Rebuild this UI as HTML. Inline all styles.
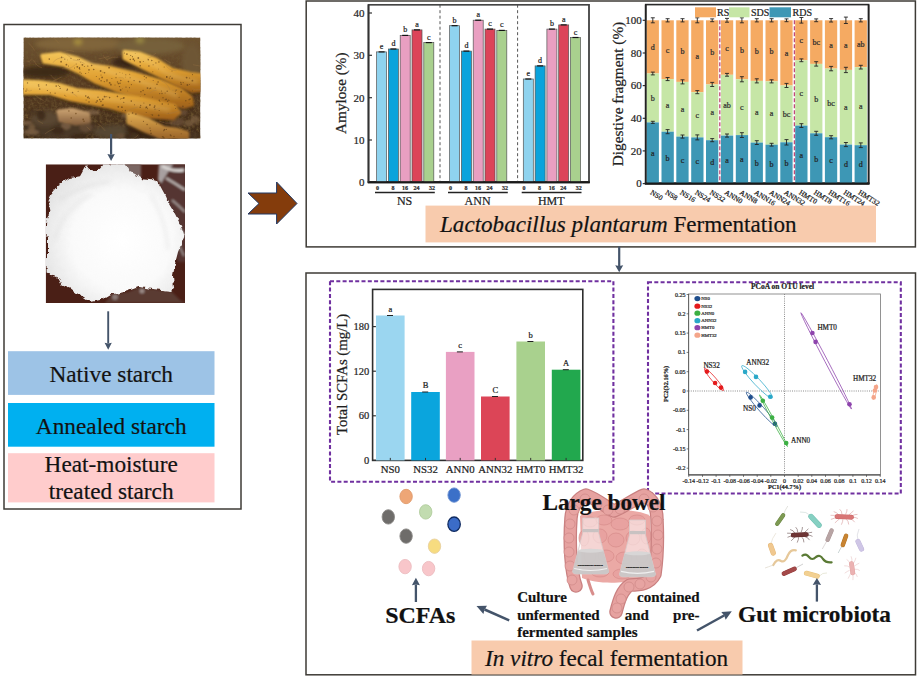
<!DOCTYPE html>
<html><head><meta charset="utf-8"><title>Graphical abstract</title><style>
html,body{margin:0;padding:0;background:#fff;width:918px;height:679px;overflow:hidden}
svg{display:block;position:absolute;left:0;top:0}
text{font-family:"Liberation Serif",serif;stroke:#222;stroke-width:0.22px}
</style></head><body>
<svg width="918" height="679" viewBox="0 0 918 679">
<rect x="0" y="0" width="918" height="679" fill="#fff"/>
<rect x="4" y="24.5" width="237" height="484.5" fill="none" stroke="#3e3b36" stroke-width="1.5"/>
<defs><clipPath id="tclip"><rect x="23.4" y="37.4" width="177" height="101.2"/></clipPath><linearGradient id="tbg" x1="0" y1="0" x2="0" y2="1"><stop offset="0" stop-color="#6f5432"/><stop offset="0.45" stop-color="#5a3d22"/><stop offset="1" stop-color="#3f2b19"/></linearGradient><filter id="bl1" x="-20%" y="-20%" width="140%" height="140%"><feGaussianBlur stdDeviation="0.9"/></filter><filter id="bl2" x="-30%" y="-30%" width="160%" height="160%"><feGaussianBlur stdDeviation="2.2"/></filter><linearGradient id="tub2" x1="0" y1="0" x2="0" y2="1"><stop offset="0" stop-color="#e0ac50"/><stop offset="1" stop-color="#9a6428"/></linearGradient><linearGradient id="tub3" x1="0" y1="0" x2="0" y2="1"><stop offset="0" stop-color="#c8a070"/><stop offset="1" stop-color="#8a6440"/></linearGradient><linearGradient id="tub" x1="0" y1="0" x2="0" y2="1"><stop offset="0" stop-color="#f4c458"/><stop offset="0.45" stop-color="#e0a032"/><stop offset="1" stop-color="#a0621a"/></linearGradient></defs>
<g id="tuber" clip-path="url(#tclip)">
<rect x="23.4" y="37.4" width="177" height="101.2" fill="url(#tbg)"/>
<defs><filter id="soil" x="0" y="0" width="100%" height="100%"><feTurbulence type="fractalNoise" baseFrequency="0.35" numOctaves="3" seed="9"/><feColorMatrix type="matrix" values="0 0 0 0 0.15  0 0 0 0 0.09  0 0 0 0 0.03  0 0 0 -2.2 1.35"/></filter></defs>
<rect x="23.4" y="37.4" width="177" height="101.2" filter="url(#soil)" opacity="0.85"/>
<g filter="url(#bl2)">
<ellipse cx="80" cy="44" rx="45" ry="7" fill="#80653a"/>
<ellipse cx="150" cy="46" rx="35" ry="8" fill="#76603a"/>
<ellipse cx="78" cy="42" rx="4" ry="3" fill="#a89040"/>
<ellipse cx="140" cy="40" rx="4" ry="3" fill="#9a8a44"/>
<ellipse cx="45" cy="72" rx="25" ry="6" fill="#3e2a16"/>
<ellipse cx="130" cy="62" rx="18" ry="6" fill="#3a2614"/>
<ellipse cx="60" cy="127" rx="35" ry="11" fill="#4a3826"/>
<ellipse cx="115" cy="132" rx="22" ry="7" fill="#574632"/>
<ellipse cx="45" cy="118" rx="14" ry="8" fill="#5a4632"/>
<ellipse cx="150" cy="130" rx="25" ry="9" fill="#3a2818"/>
<ellipse cx="192" cy="62" rx="10" ry="18" fill="#6e5636"/>
</g>
<g filter="url(#bl2)">
<polygon points="42.0,58.1 60.1,56.1 78.1,61.0 92.2,67.8 110.2,70.2 132.2,75.4 160.3,83.4 180.4,91.4 190.8,99.8 192.4,107.1 184.4,109.5 164.3,105.9 140.3,100.6 116.2,93.0 96.2,85.0 80.1,75.4 64.1,67.8 44.1,64.6" fill="#2e1e0e" opacity="0.8"/>
<polygon points="124.2,54.1 140.3,56.1 156.3,62.2 172.3,72.2 190.4,76.2 201.4,77.6 201.4,93.0 192.4,93.8 176.3,87.0 160.3,79.0 144.3,71.0 132.2,65.0 124.2,60.6" fill="#2e1e0e" opacity="0.8"/>
<polygon points="23.0,83.8 40.0,84.6 60.1,87.4 78.1,92.6 100.2,94.6 120.2,97.8 140.3,101.0 160.3,105.1 174.3,108.3 179.4,115.1 173.3,121.1 150.3,119.5 130.2,115.9 110.2,109.9 90.2,105.9 70.1,101.8 50.1,95.8 23.0,95.4" fill="#2e1e0e" opacity="0.8"/>
<polygon points="128.2,116.3 148.3,122.3 164.3,130.3 178.3,132.3 187.4,135.1 187.4,141.1 164.3,141.1 144.3,133.1 128.2,125.1" fill="#2e1e0e" opacity="0.8"/>
</g>
<ellipse cx="65.9" cy="126.1" rx="5.2" ry="3.8" fill="#806448" opacity="0.75" filter="url(#bl1)"/>
<ellipse cx="35.5" cy="112.3" rx="8.0" ry="2.8" fill="#4a3520" opacity="0.75" filter="url(#bl1)"/>
<ellipse cx="57.7" cy="130.6" rx="6.2" ry="3.6" fill="#3a2818" opacity="0.75" filter="url(#bl1)"/>
<ellipse cx="136.5" cy="115.9" rx="6.8" ry="4.6" fill="#806448" opacity="0.75" filter="url(#bl1)"/>
<ellipse cx="92.6" cy="112.4" rx="7.7" ry="2.5" fill="#806448" opacity="0.75" filter="url(#bl1)"/>
<ellipse cx="31.5" cy="132.3" rx="7.9" ry="2.8" fill="#806448" opacity="0.75" filter="url(#bl1)"/>
<ellipse cx="150.5" cy="134.8" rx="7.3" ry="4.8" fill="#3a2818" opacity="0.75" filter="url(#bl1)"/>
<ellipse cx="152.2" cy="127.0" rx="8.8" ry="2.4" fill="#7a5e40" opacity="0.75" filter="url(#bl1)"/>
<ellipse cx="41.2" cy="115.5" rx="4.3" ry="4.9" fill="#3a2818" opacity="0.75" filter="url(#bl1)"/>
<ellipse cx="161.1" cy="134.2" rx="5.5" ry="4.5" fill="#806448" opacity="0.75" filter="url(#bl1)"/>
<ellipse cx="85.8" cy="127.2" rx="6.5" ry="4.7" fill="#6a5038" opacity="0.75" filter="url(#bl1)"/>
<ellipse cx="174.7" cy="137.8" rx="7.0" ry="2.5" fill="#7a5e40" opacity="0.75" filter="url(#bl1)"/>
<ellipse cx="193.8" cy="135.5" rx="6.4" ry="4.1" fill="#4a3520" opacity="0.75" filter="url(#bl1)"/>
<ellipse cx="135.4" cy="137.7" rx="4.6" ry="2.4" fill="#3a2818" opacity="0.75" filter="url(#bl1)"/>
<ellipse cx="174.3" cy="137.7" rx="3.5" ry="4.4" fill="#3a2818" opacity="0.75" filter="url(#bl1)"/>
<ellipse cx="181.9" cy="112.5" rx="5.6" ry="3.2" fill="#6a5038" opacity="0.75" filter="url(#bl1)"/>
<ellipse cx="31.8" cy="128.0" rx="3.3" ry="4.2" fill="#7a5e40" opacity="0.75" filter="url(#bl1)"/>
<ellipse cx="120.9" cy="136.0" rx="4.7" ry="2.7" fill="#6a5038" opacity="0.75" filter="url(#bl1)"/>
<ellipse cx="78.5" cy="114.0" rx="6.6" ry="2.1" fill="#4a3520" opacity="0.75" filter="url(#bl1)"/>
<ellipse cx="195.0" cy="119.6" rx="4.6" ry="4.1" fill="#7a5e40" opacity="0.75" filter="url(#bl1)"/>
<ellipse cx="79.2" cy="136.9" rx="8.4" ry="3.1" fill="#3a2818" opacity="0.75" filter="url(#bl1)"/>
<ellipse cx="177.1" cy="122.0" rx="8.2" ry="4.0" fill="#6a5038" opacity="0.75" filter="url(#bl1)"/>
<ellipse cx="133.1" cy="136.5" rx="6.0" ry="3.3" fill="#4a3520" opacity="0.75" filter="url(#bl1)"/>
<ellipse cx="188.8" cy="123.4" rx="4.5" ry="2.9" fill="#7a5e40" opacity="0.75" filter="url(#bl1)"/>
<ellipse cx="26.0" cy="122.8" rx="6.5" ry="2.1" fill="#806448" opacity="0.75" filter="url(#bl1)"/>
<ellipse cx="127.7" cy="115.5" rx="6.8" ry="3.0" fill="#7a5e40" opacity="0.75" filter="url(#bl1)"/>
<ellipse cx="143.6" cy="121.2" rx="7.2" ry="4.2" fill="#6a5038" opacity="0.75" filter="url(#bl1)"/>
<ellipse cx="127.7" cy="136.8" rx="3.1" ry="3.1" fill="#3a2818" opacity="0.75" filter="url(#bl1)"/>
<polygon points="42.0,55.6 60.1,53.6 78.1,58.5 92.2,65.3 110.2,67.7 132.2,72.9 160.3,80.9 180.4,88.9 190.8,97.3 192.4,104.6 184.4,107.0 164.3,103.4 140.3,98.1 116.2,90.5 96.2,82.5 80.1,72.9 64.1,65.3 44.1,62.1" fill="url(#tub)" stroke="url(#tub)" stroke-width="3.5" stroke-linejoin="round" filter="url(#bl1)"/>
<polygon points="124.2,51.6 140.3,53.6 156.3,59.7 172.3,69.7 190.4,73.7 201.4,75.1 201.4,90.5 192.4,91.3 176.3,84.5 160.3,76.5 144.3,68.5 132.2,62.5 124.2,58.1" fill="url(#tub)" stroke="url(#tub)" stroke-width="3.5" stroke-linejoin="round" filter="url(#bl1)"/>
<polygon points="23.0,81.3 40.0,82.1 60.1,84.9 78.1,90.1 100.2,92.1 120.2,95.3 140.3,98.5 160.3,102.6 174.3,105.8 179.4,112.6 173.3,118.6 150.3,117.0 130.2,113.4 110.2,107.4 90.2,103.4 70.1,99.3 50.1,93.3 23.0,92.9" fill="url(#tub)" stroke="url(#tub)" stroke-width="3.5" stroke-linejoin="round" filter="url(#bl1)"/>
<polygon points="128.2,113.8 148.3,119.8 164.3,127.8 178.3,129.8 187.4,132.6 187.4,138.6 164.3,138.6 144.3,130.6 128.2,122.6" fill="url(#tub2)" stroke="url(#tub2)" stroke-width="3.5" stroke-linejoin="round" filter="url(#bl1)"/>
<polygon points="58.1,111.2 72.1,109.8 88.1,113.8 89.2,121.8 76.1,123.8 60.1,120.6" fill="url(#tub3)" stroke="url(#tub3)" stroke-width="3.5" stroke-linejoin="round" filter="url(#bl1)"/>
<g filter="url(#bl2)" opacity="0.35">
<path d="M62 58 Q90 62 110 72 Q140 80 178 96" fill="none" stroke="#f6dc98" stroke-width="3"/>
<path d="M26 85 Q60 88 90 96 Q130 102 170 110" fill="none" stroke="#f6dc98" stroke-width="3"/>
<path d="M130 54 Q150 60 165 72 Q180 80 198 82" fill="none" stroke="#f6dc98" stroke-width="3"/>
</g>
<circle cx="122.6" cy="73.1" r="0.4" fill="#6a4418" opacity="0.7"/>
<circle cx="129.5" cy="87.7" r="0.6" fill="#6a4418" opacity="0.7"/>
<circle cx="144.3" cy="76.4" r="0.6" fill="#6a4418" opacity="0.7"/>
<circle cx="130.1" cy="77.8" r="0.5" fill="#6a4418" opacity="0.7"/>
<circle cx="161.5" cy="90.9" r="0.5" fill="#6a4418" opacity="0.7"/>
<circle cx="128.4" cy="81.6" r="0.8" fill="#6a4418" opacity="0.7"/>
<circle cx="157.0" cy="84.2" r="0.8" fill="#6a4418" opacity="0.7"/>
<circle cx="131.4" cy="84.6" r="0.6" fill="#6a4418" opacity="0.7"/>
<circle cx="168.3" cy="104.0" r="0.6" fill="#6a4418" opacity="0.7"/>
<circle cx="147.5" cy="88.1" r="0.9" fill="#6a4418" opacity="0.7"/>
<circle cx="67.3" cy="59.9" r="0.4" fill="#6a4418" opacity="0.7"/>
<circle cx="109.6" cy="82.9" r="0.8" fill="#6a4418" opacity="0.7"/>
<circle cx="165.2" cy="99.7" r="0.5" fill="#6a4418" opacity="0.7"/>
<circle cx="104.5" cy="72.8" r="0.8" fill="#6a4418" opacity="0.7"/>
<circle cx="68.5" cy="66.0" r="0.5" fill="#6a4418" opacity="0.7"/>
<circle cx="115.0" cy="85.1" r="0.5" fill="#6a4418" opacity="0.7"/>
<circle cx="119.5" cy="86.6" r="0.7" fill="#6a4418" opacity="0.7"/>
<circle cx="159.3" cy="100.3" r="0.8" fill="#6a4418" opacity="0.7"/>
<circle cx="101.0" cy="74.9" r="0.5" fill="#6a4418" opacity="0.7"/>
<circle cx="64.8" cy="59.1" r="0.6" fill="#6a4418" opacity="0.7"/>
<circle cx="80.0" cy="72.2" r="0.6" fill="#6a4418" opacity="0.7"/>
<circle cx="189.1" cy="99.7" r="0.7" fill="#6a4418" opacity="0.7"/>
<circle cx="81.3" cy="73.2" r="0.5" fill="#6a4418" opacity="0.7"/>
<circle cx="158.1" cy="82.0" r="0.8" fill="#6a4418" opacity="0.7"/>
<circle cx="91.6" cy="65.5" r="0.8" fill="#6a4418" opacity="0.7"/>
<circle cx="190.1" cy="99.1" r="0.8" fill="#6a4418" opacity="0.7"/>
<circle cx="165.1" cy="93.1" r="0.5" fill="#6a4418" opacity="0.7"/>
<circle cx="119.9" cy="72.6" r="0.4" fill="#6a4418" opacity="0.7"/>
<circle cx="182.9" cy="106.3" r="0.9" fill="#6a4418" opacity="0.7"/>
<circle cx="76.2" cy="64.1" r="0.5" fill="#6a4418" opacity="0.7"/>
<circle cx="140.2" cy="96.3" r="0.4" fill="#6a4418" opacity="0.7"/>
<circle cx="159.7" cy="93.6" r="0.6" fill="#6a4418" opacity="0.7"/>
<circle cx="61.1" cy="61.7" r="0.9" fill="#6a4418" opacity="0.7"/>
<circle cx="139.7" cy="81.7" r="0.9" fill="#6a4418" opacity="0.7"/>
<circle cx="79.9" cy="69.3" r="0.5" fill="#6a4418" opacity="0.7"/>
<circle cx="110.9" cy="84.7" r="0.9" fill="#6a4418" opacity="0.7"/>
<circle cx="117.5" cy="82.0" r="0.7" fill="#6a4418" opacity="0.7"/>
<circle cx="120.0" cy="83.3" r="0.8" fill="#6a4418" opacity="0.7"/>
<circle cx="79.4" cy="68.4" r="0.8" fill="#6a4418" opacity="0.7"/>
<circle cx="118.4" cy="83.6" r="0.8" fill="#6a4418" opacity="0.7"/>
<circle cx="134.1" cy="80.6" r="0.7" fill="#6a4418" opacity="0.7"/>
<circle cx="146.2" cy="77.8" r="0.7" fill="#6a4418" opacity="0.7"/>
<circle cx="159.9" cy="101.5" r="0.5" fill="#6a4418" opacity="0.7"/>
<circle cx="149.7" cy="88.8" r="0.5" fill="#6a4418" opacity="0.7"/>
<circle cx="174.8" cy="105.2" r="0.5" fill="#6a4418" opacity="0.7"/>
<circle cx="106.9" cy="81.1" r="0.6" fill="#6a4418" opacity="0.7"/>
<circle cx="125.3" cy="77.1" r="0.4" fill="#6a4418" opacity="0.7"/>
<circle cx="179.1" cy="97.3" r="0.5" fill="#6a4418" opacity="0.7"/>
<circle cx="127.8" cy="91.0" r="0.4" fill="#6a4418" opacity="0.7"/>
<circle cx="77.9" cy="59.5" r="0.5" fill="#6a4418" opacity="0.7"/>
<circle cx="89.0" cy="69.9" r="0.8" fill="#6a4418" opacity="0.7"/>
<circle cx="107.0" cy="80.0" r="0.8" fill="#6a4418" opacity="0.7"/>
<circle cx="101.1" cy="80.7" r="0.7" fill="#6a4418" opacity="0.7"/>
<circle cx="167.2" cy="91.3" r="0.7" fill="#6a4418" opacity="0.7"/>
<circle cx="102.9" cy="72.2" r="0.4" fill="#6a4418" opacity="0.7"/>
<circle cx="61.6" cy="57.4" r="0.8" fill="#6a4418" opacity="0.7"/>
<circle cx="80.5" cy="62.3" r="0.4" fill="#6a4418" opacity="0.7"/>
<circle cx="168.5" cy="100.1" r="0.7" fill="#6a4418" opacity="0.7"/>
<circle cx="84.4" cy="66.6" r="0.5" fill="#6a4418" opacity="0.7"/>
<circle cx="109.1" cy="67.7" r="0.9" fill="#6a4418" opacity="0.7"/>
<circle cx="88.6" cy="72.7" r="0.4" fill="#6a4418" opacity="0.7"/>
<circle cx="99.4" cy="78.9" r="0.7" fill="#6a4418" opacity="0.7"/>
<circle cx="87.8" cy="66.1" r="0.7" fill="#6a4418" opacity="0.7"/>
<circle cx="140.9" cy="91.8" r="0.8" fill="#6a4418" opacity="0.7"/>
<circle cx="100.6" cy="71.0" r="0.9" fill="#6a4418" opacity="0.7"/>
<circle cx="167.6" cy="101.2" r="0.7" fill="#6a4418" opacity="0.7"/>
<circle cx="152.4" cy="96.9" r="0.5" fill="#6a4418" opacity="0.7"/>
<circle cx="120.8" cy="80.5" r="0.8" fill="#6a4418" opacity="0.7"/>
<circle cx="163.0" cy="97.7" r="0.7" fill="#6a4418" opacity="0.7"/>
<circle cx="176.3" cy="90.1" r="0.7" fill="#6a4418" opacity="0.7"/>
<circle cx="126.0" cy="87.1" r="0.7" fill="#6a4418" opacity="0.7"/>
<circle cx="144.4" cy="79.7" r="0.4" fill="#6a4418" opacity="0.7"/>
<circle cx="162.0" cy="93.5" r="0.7" fill="#6a4418" opacity="0.7"/>
<circle cx="122.5" cy="88.8" r="0.4" fill="#6a4418" opacity="0.7"/>
<circle cx="116.3" cy="74.0" r="0.6" fill="#6a4418" opacity="0.7"/>
<circle cx="144.8" cy="94.5" r="0.7" fill="#6a4418" opacity="0.7"/>
<circle cx="143.1" cy="90.5" r="0.7" fill="#6a4418" opacity="0.7"/>
<circle cx="111.9" cy="78.5" r="0.5" fill="#6a4418" opacity="0.7"/>
<circle cx="189.1" cy="103.6" r="0.4" fill="#6a4418" opacity="0.7"/>
<circle cx="82.4" cy="64.8" r="0.9" fill="#6a4418" opacity="0.7"/>
<circle cx="175.4" cy="91.1" r="0.5" fill="#6a4418" opacity="0.7"/>
<circle cx="116.0" cy="77.7" r="0.6" fill="#6a4418" opacity="0.7"/>
<circle cx="181.3" cy="91.7" r="0.9" fill="#6a4418" opacity="0.7"/>
<circle cx="85.6" cy="73.5" r="0.6" fill="#6a4418" opacity="0.7"/>
<circle cx="96.3" cy="76.5" r="0.5" fill="#6a4418" opacity="0.7"/>
<circle cx="49.3" cy="59.1" r="0.8" fill="#6a4418" opacity="0.7"/>
<circle cx="79.5" cy="67.8" r="0.7" fill="#6a4418" opacity="0.7"/>
<circle cx="185.8" cy="100.8" r="0.8" fill="#6a4418" opacity="0.7"/>
<circle cx="155.2" cy="88.0" r="0.5" fill="#6a4418" opacity="0.7"/>
<circle cx="93.7" cy="69.5" r="0.8" fill="#6a4418" opacity="0.7"/>
<circle cx="125.8" cy="74.7" r="0.5" fill="#6a4418" opacity="0.7"/>
<circle cx="66.4" cy="64.7" r="0.9" fill="#6a4418" opacity="0.7"/>
<circle cx="71.0" cy="58.5" r="0.6" fill="#6a4418" opacity="0.7"/>
<circle cx="175.4" cy="93.6" r="0.6" fill="#6a4418" opacity="0.7"/>
<circle cx="104.3" cy="81.6" r="0.6" fill="#6a4418" opacity="0.7"/>
<circle cx="74.5" cy="68.1" r="0.5" fill="#6a4418" opacity="0.7"/>
<circle cx="102.1" cy="77.4" r="0.9" fill="#6a4418" opacity="0.7"/>
<circle cx="169.6" cy="100.2" r="0.4" fill="#6a4418" opacity="0.7"/>
<circle cx="166.2" cy="99.3" r="0.9" fill="#6a4418" opacity="0.7"/>
<circle cx="79.4" cy="59.5" r="0.5" fill="#6a4418" opacity="0.7"/>
<circle cx="120.6" cy="90.0" r="0.9" fill="#6a4418" opacity="0.7"/>
<circle cx="150.5" cy="88.2" r="0.8" fill="#6a4418" opacity="0.7"/>
<circle cx="110.8" cy="83.0" r="0.4" fill="#6a4418" opacity="0.7"/>
<circle cx="129.7" cy="74.3" r="0.5" fill="#6a4418" opacity="0.7"/>
<circle cx="77.3" cy="66.8" r="0.9" fill="#6a4418" opacity="0.7"/>
<circle cx="153.2" cy="80.6" r="0.5" fill="#6a4418" opacity="0.7"/>
<circle cx="135.2" cy="53.7" r="0.4" fill="#6a4418" opacity="0.7"/>
<circle cx="192.4" cy="80.7" r="0.9" fill="#6a4418" opacity="0.7"/>
<circle cx="153.1" cy="64.8" r="0.5" fill="#6a4418" opacity="0.7"/>
<circle cx="140.2" cy="65.8" r="0.8" fill="#6a4418" opacity="0.7"/>
<circle cx="126.9" cy="54.1" r="0.9" fill="#6a4418" opacity="0.7"/>
<circle cx="181.2" cy="84.3" r="0.8" fill="#6a4418" opacity="0.7"/>
<circle cx="148.9" cy="66.0" r="0.8" fill="#6a4418" opacity="0.7"/>
<circle cx="130.3" cy="59.5" r="0.8" fill="#6a4418" opacity="0.7"/>
<circle cx="192.4" cy="90.8" r="0.5" fill="#6a4418" opacity="0.7"/>
<circle cx="130.7" cy="55.5" r="0.6" fill="#6a4418" opacity="0.7"/>
<circle cx="172.1" cy="78.4" r="0.8" fill="#6a4418" opacity="0.7"/>
<circle cx="189.6" cy="78.0" r="0.5" fill="#6a4418" opacity="0.7"/>
<circle cx="143.3" cy="61.4" r="0.5" fill="#6a4418" opacity="0.7"/>
<circle cx="192.5" cy="74.6" r="0.6" fill="#6a4418" opacity="0.7"/>
<circle cx="186.6" cy="77.6" r="0.9" fill="#6a4418" opacity="0.7"/>
<circle cx="187.4" cy="85.0" r="0.9" fill="#6a4418" opacity="0.7"/>
<circle cx="133.4" cy="59.2" r="0.9" fill="#6a4418" opacity="0.7"/>
<circle cx="158.9" cy="62.0" r="0.8" fill="#6a4418" opacity="0.7"/>
<circle cx="170.2" cy="76.2" r="0.5" fill="#6a4418" opacity="0.7"/>
<circle cx="140.0" cy="61.8" r="0.7" fill="#6a4418" opacity="0.7"/>
<circle cx="148.3" cy="59.7" r="0.8" fill="#6a4418" opacity="0.7"/>
<circle cx="166.7" cy="77.0" r="0.4" fill="#6a4418" opacity="0.7"/>
<circle cx="155.9" cy="62.9" r="0.6" fill="#6a4418" opacity="0.7"/>
<circle cx="166.8" cy="77.1" r="0.9" fill="#6a4418" opacity="0.7"/>
<circle cx="152.8" cy="71.7" r="0.5" fill="#6a4418" opacity="0.7"/>
<circle cx="189.5" cy="84.5" r="0.5" fill="#6a4418" opacity="0.7"/>
<circle cx="164.2" cy="66.9" r="0.5" fill="#6a4418" opacity="0.7"/>
<circle cx="166.7" cy="76.5" r="0.6" fill="#6a4418" opacity="0.7"/>
<circle cx="158.7" cy="69.0" r="0.4" fill="#6a4418" opacity="0.7"/>
<circle cx="172.0" cy="71.1" r="0.5" fill="#6a4418" opacity="0.7"/>
<circle cx="183.2" cy="82.6" r="0.6" fill="#6a4418" opacity="0.7"/>
<circle cx="132.5" cy="56.7" r="0.6" fill="#6a4418" opacity="0.7"/>
<circle cx="180.8" cy="82.5" r="0.7" fill="#6a4418" opacity="0.7"/>
<circle cx="201.1" cy="80.7" r="0.8" fill="#6a4418" opacity="0.7"/>
<circle cx="140.3" cy="62.1" r="0.7" fill="#6a4418" opacity="0.7"/>
<circle cx="138.3" cy="58.0" r="0.9" fill="#6a4418" opacity="0.7"/>
<circle cx="169.4" cy="78.0" r="0.6" fill="#6a4418" opacity="0.7"/>
<circle cx="124.4" cy="53.0" r="0.5" fill="#6a4418" opacity="0.7"/>
<circle cx="134.4" cy="60.7" r="0.7" fill="#6a4418" opacity="0.7"/>
<circle cx="151.8" cy="60.5" r="0.7" fill="#6a4418" opacity="0.7"/>
<circle cx="120.6" cy="99.0" r="0.5" fill="#6a4418" opacity="0.7"/>
<circle cx="46.4" cy="84.9" r="0.7" fill="#6a4418" opacity="0.7"/>
<circle cx="159.2" cy="110.5" r="0.6" fill="#6a4418" opacity="0.7"/>
<circle cx="123.8" cy="102.3" r="0.6" fill="#6a4418" opacity="0.7"/>
<circle cx="123.9" cy="97.8" r="0.9" fill="#6a4418" opacity="0.7"/>
<circle cx="106.1" cy="96.4" r="0.5" fill="#6a4418" opacity="0.7"/>
<circle cx="102.3" cy="105.2" r="0.8" fill="#6a4418" opacity="0.7"/>
<circle cx="50.3" cy="92.8" r="0.6" fill="#6a4418" opacity="0.7"/>
<circle cx="145.4" cy="108.0" r="0.4" fill="#6a4418" opacity="0.7"/>
<circle cx="155.0" cy="109.1" r="0.6" fill="#6a4418" opacity="0.7"/>
<circle cx="58.3" cy="85.2" r="0.5" fill="#6a4418" opacity="0.7"/>
<circle cx="140.2" cy="107.2" r="0.8" fill="#6a4418" opacity="0.7"/>
<circle cx="109.6" cy="97.6" r="0.8" fill="#6a4418" opacity="0.7"/>
<circle cx="25.4" cy="91.0" r="0.5" fill="#6a4418" opacity="0.7"/>
<circle cx="121.6" cy="107.1" r="0.7" fill="#6a4418" opacity="0.7"/>
<circle cx="154.3" cy="107.3" r="0.8" fill="#6a4418" opacity="0.7"/>
<circle cx="27.5" cy="82.9" r="0.7" fill="#6a4418" opacity="0.7"/>
<circle cx="122.1" cy="107.3" r="0.8" fill="#6a4418" opacity="0.7"/>
<circle cx="151.1" cy="114.5" r="0.4" fill="#6a4418" opacity="0.7"/>
<circle cx="158.7" cy="115.4" r="0.9" fill="#6a4418" opacity="0.7"/>
<circle cx="39.8" cy="89.0" r="0.5" fill="#6a4418" opacity="0.7"/>
<circle cx="150.0" cy="104.9" r="0.8" fill="#6a4418" opacity="0.7"/>
<circle cx="38.6" cy="85.0" r="0.8" fill="#6a4418" opacity="0.7"/>
<circle cx="55.1" cy="93.2" r="0.6" fill="#6a4418" opacity="0.7"/>
<circle cx="26.3" cy="90.9" r="0.5" fill="#6a4418" opacity="0.7"/>
<circle cx="87.6" cy="97.6" r="0.8" fill="#6a4418" opacity="0.7"/>
<circle cx="23.2" cy="88.8" r="0.8" fill="#6a4418" opacity="0.7"/>
<circle cx="99.7" cy="99.6" r="0.8" fill="#6a4418" opacity="0.7"/>
<circle cx="67.4" cy="89.3" r="0.7" fill="#6a4418" opacity="0.7"/>
<circle cx="146.2" cy="107.3" r="0.8" fill="#6a4418" opacity="0.7"/>
<circle cx="85.7" cy="96.0" r="0.8" fill="#6a4418" opacity="0.7"/>
<circle cx="26.9" cy="89.0" r="0.5" fill="#6a4418" opacity="0.7"/>
<circle cx="140.7" cy="105.4" r="0.6" fill="#6a4418" opacity="0.7"/>
<circle cx="154.8" cy="106.0" r="0.8" fill="#6a4418" opacity="0.7"/>
<circle cx="143.9" cy="102.9" r="0.5" fill="#6a4418" opacity="0.7"/>
<circle cx="60.2" cy="88.4" r="0.6" fill="#6a4418" opacity="0.7"/>
<circle cx="132.9" cy="112.8" r="0.5" fill="#6a4418" opacity="0.7"/>
<circle cx="47.4" cy="90.5" r="0.6" fill="#6a4418" opacity="0.7"/>
<circle cx="175.5" cy="108.5" r="0.5" fill="#6a4418" opacity="0.7"/>
<circle cx="147.3" cy="108.6" r="0.6" fill="#6a4418" opacity="0.7"/>
<circle cx="39.7" cy="89.0" r="0.6" fill="#6a4418" opacity="0.7"/>
<circle cx="146.7" cy="107.2" r="0.7" fill="#6a4418" opacity="0.7"/>
<circle cx="121.9" cy="98.6" r="0.5" fill="#6a4418" opacity="0.7"/>
<circle cx="117.4" cy="96.4" r="0.8" fill="#6a4418" opacity="0.7"/>
<circle cx="135.9" cy="114.1" r="0.8" fill="#6a4418" opacity="0.7"/>
<circle cx="132.5" cy="113.1" r="0.7" fill="#6a4418" opacity="0.7"/>
<circle cx="123.3" cy="98.2" r="0.6" fill="#6a4418" opacity="0.7"/>
<circle cx="134.5" cy="104.8" r="0.5" fill="#6a4418" opacity="0.7"/>
<circle cx="89.2" cy="98.3" r="0.7" fill="#6a4418" opacity="0.7"/>
<circle cx="125.3" cy="110.3" r="0.6" fill="#6a4418" opacity="0.7"/>
<circle cx="103.1" cy="105.1" r="0.8" fill="#6a4418" opacity="0.7"/>
<circle cx="104.6" cy="96.6" r="0.9" fill="#6a4418" opacity="0.7"/>
<circle cx="65.9" cy="96.2" r="0.4" fill="#6a4418" opacity="0.7"/>
<circle cx="88.4" cy="97.0" r="0.7" fill="#6a4418" opacity="0.7"/>
<circle cx="78.1" cy="91.2" r="0.5" fill="#6a4418" opacity="0.7"/>
<circle cx="56.2" cy="86.1" r="0.8" fill="#6a4418" opacity="0.7"/>
<circle cx="149.6" cy="105.0" r="0.6" fill="#6a4418" opacity="0.7"/>
<circle cx="64.8" cy="95.3" r="0.5" fill="#6a4418" opacity="0.7"/>
<circle cx="67.0" cy="90.4" r="0.6" fill="#6a4418" opacity="0.7"/>
<circle cx="98.0" cy="97.3" r="0.7" fill="#6a4418" opacity="0.7"/>
<circle cx="168.2" cy="113.2" r="0.4" fill="#6a4418" opacity="0.7"/>
<circle cx="152.4" cy="115.1" r="0.8" fill="#6a4418" opacity="0.7"/>
<circle cx="38.9" cy="86.6" r="0.5" fill="#6a4418" opacity="0.7"/>
<circle cx="162.3" cy="104.0" r="0.8" fill="#6a4418" opacity="0.7"/>
<circle cx="146.2" cy="112.6" r="0.5" fill="#6a4418" opacity="0.7"/>
<circle cx="131.3" cy="101.1" r="0.8" fill="#6a4418" opacity="0.7"/>
<circle cx="59.6" cy="86.5" r="0.6" fill="#6a4418" opacity="0.7"/>
<circle cx="100.9" cy="101.4" r="0.8" fill="#6a4418" opacity="0.7"/>
<circle cx="96.2" cy="102.3" r="0.7" fill="#6a4418" opacity="0.7"/>
<circle cx="118.3" cy="106.8" r="0.9" fill="#6a4418" opacity="0.7"/>
<circle cx="102.8" cy="99.4" r="0.8" fill="#6a4418" opacity="0.7"/>
<circle cx="97.2" cy="100.9" r="0.8" fill="#6a4418" opacity="0.7"/>
<circle cx="89.0" cy="102.0" r="0.8" fill="#6a4418" opacity="0.7"/>
<circle cx="86.1" cy="100.1" r="0.5" fill="#6a4418" opacity="0.7"/>
<circle cx="125.3" cy="110.8" r="0.6" fill="#6a4418" opacity="0.7"/>
<circle cx="72.6" cy="92.5" r="0.7" fill="#6a4418" opacity="0.7"/>
<circle cx="122.3" cy="110.5" r="0.4" fill="#6a4418" opacity="0.7"/>
<circle cx="171.0" cy="135.8" r="0.7" fill="#6a4418" opacity="0.7"/>
<circle cx="131.2" cy="121.2" r="0.4" fill="#6a4418" opacity="0.7"/>
<circle cx="164.2" cy="130.1" r="0.8" fill="#6a4418" opacity="0.7"/>
<circle cx="164.7" cy="129.4" r="0.7" fill="#6a4418" opacity="0.7"/>
<circle cx="163.5" cy="130.7" r="0.5" fill="#6a4418" opacity="0.7"/>
<circle cx="174.0" cy="136.5" r="0.7" fill="#6a4418" opacity="0.7"/>
<circle cx="143.5" cy="121.3" r="0.6" fill="#6a4418" opacity="0.7"/>
<circle cx="147.1" cy="124.5" r="0.7" fill="#6a4418" opacity="0.7"/>
<circle cx="162.3" cy="136.6" r="0.6" fill="#6a4418" opacity="0.7"/>
<circle cx="163.2" cy="137.1" r="0.9" fill="#6a4418" opacity="0.7"/>
<circle cx="156.4" cy="124.0" r="0.5" fill="#6a4418" opacity="0.7"/>
<circle cx="170.4" cy="135.0" r="0.8" fill="#6a4418" opacity="0.7"/>
<circle cx="128.9" cy="114.1" r="0.7" fill="#6a4418" opacity="0.7"/>
<circle cx="150.0" cy="128.1" r="0.6" fill="#6a4418" opacity="0.7"/>
<circle cx="166.4" cy="129.4" r="0.6" fill="#6a4418" opacity="0.7"/>
<circle cx="151.0" cy="133.3" r="0.9" fill="#6a4418" opacity="0.7"/>
<circle cx="164.1" cy="138.1" r="0.8" fill="#6a4418" opacity="0.7"/>
<circle cx="150.5" cy="130.8" r="0.7" fill="#6a4418" opacity="0.7"/>
<circle cx="181.2" cy="133.8" r="0.5" fill="#6a4418" opacity="0.7"/>
<circle cx="71.2" cy="118.0" r="0.8" fill="#6a4418" opacity="0.7"/>
<circle cx="84.0" cy="121.2" r="0.8" fill="#6a4418" opacity="0.7"/>
<circle cx="75.9" cy="113.6" r="0.8" fill="#6a4418" opacity="0.7"/>
<circle cx="83.2" cy="119.4" r="0.9" fill="#6a4418" opacity="0.7"/>
<circle cx="68.9" cy="111.0" r="0.7" fill="#6a4418" opacity="0.7"/>
<path d="M164.5 59.2 Q168.3 62.1 170.7 62.8" fill="none" stroke="#a07a48" stroke-width="0.5" opacity="0.6"/>
<path d="M106.4 59.8 Q112.1 56.0 118.3 57.2" fill="none" stroke="#a07a48" stroke-width="0.5" opacity="0.6"/>
<path d="M166.2 114.1 Q174.8 112.6 178.8 110.9" fill="none" stroke="#a07a48" stroke-width="0.5" opacity="0.6"/>
<path d="M108.4 96.6 Q106.5 96.8 102.1 98.6" fill="none" stroke="#a07a48" stroke-width="0.5" opacity="0.6"/>
<path d="M123.8 78.6 Q124.1 77.4 118.5 77.7" fill="none" stroke="#a07a48" stroke-width="0.5" opacity="0.6"/>
<path d="M43.6 100.7 Q38.3 98.0 34.9 95.0" fill="none" stroke="#a07a48" stroke-width="0.5" opacity="0.6"/>
<path d="M28.6 43.2 Q32.0 45.4 34.5 50.5" fill="none" stroke="#a07a48" stroke-width="0.5" opacity="0.6"/>
<path d="M161.4 80.9 Q168.4 83.9 169.8 89.9" fill="none" stroke="#a07a48" stroke-width="0.5" opacity="0.6"/>
<path d="M31.6 59.3 Q29.4 62.4 26.5 61.1" fill="none" stroke="#a07a48" stroke-width="0.5" opacity="0.6"/>
<path d="M105.2 130.9 Q100.8 125.1 97.7 123.7" fill="none" stroke="#a07a48" stroke-width="0.5" opacity="0.6"/>
<path d="M192.9 64.7 Q200.5 65.7 206.1 68.0" fill="none" stroke="#a07a48" stroke-width="0.5" opacity="0.6"/>
<path d="M103.5 55.3 Q103.0 56.5 108.1 60.6" fill="none" stroke="#a07a48" stroke-width="0.5" opacity="0.6"/>
<path d="M86.6 126.7 Q90.3 129.8 90.5 130.4" fill="none" stroke="#a07a48" stroke-width="0.5" opacity="0.6"/>
<path d="M138.2 134.6 Q135.7 138.6 127.9 140.4" fill="none" stroke="#a07a48" stroke-width="0.5" opacity="0.6"/>
<path d="M77.3 96.8 Q72.4 92.5 70.5 92.7" fill="none" stroke="#a07a48" stroke-width="0.5" opacity="0.6"/>
<path d="M109.2 56.2 Q100.9 58.8 98.5 58.8" fill="none" stroke="#a07a48" stroke-width="0.5" opacity="0.6"/>
<path d="M59.1 43.5 Q56.6 41.0 49.7 33.9" fill="none" stroke="#a07a48" stroke-width="0.5" opacity="0.6"/>
<path d="M49.5 82.9 Q55.9 79.9 60.8 77.4" fill="none" stroke="#a07a48" stroke-width="0.5" opacity="0.6"/>
<path d="M84.5 119.0 Q85.9 116.7 90.7 119.7" fill="none" stroke="#a07a48" stroke-width="0.5" opacity="0.6"/>
<path d="M149.9 93.1 Q152.8 89.7 156.8 90.4" fill="none" stroke="#a07a48" stroke-width="0.5" opacity="0.6"/>
<path d="M72.4 120.6 Q66.7 123.5 63.1 121.5" fill="none" stroke="#a07a48" stroke-width="0.5" opacity="0.6"/>
<path d="M45.0 133.9 Q48.0 131.1 54.6 128.5" fill="none" stroke="#a07a48" stroke-width="0.5" opacity="0.6"/>
<path d="M75.1 64.7 Q71.4 69.3 61.8 68.8" fill="none" stroke="#a07a48" stroke-width="0.5" opacity="0.6"/>
<path d="M42.1 67.8 Q36.6 66.7 33.6 60.0" fill="none" stroke="#a07a48" stroke-width="0.5" opacity="0.6"/>
<path d="M27.8 117.5 Q27.3 117.9 22.8 117.9" fill="none" stroke="#a07a48" stroke-width="0.5" opacity="0.6"/>
<path d="M57.5 81.8 Q51.7 76.3 50.2 74.7" fill="none" stroke="#a07a48" stroke-width="0.5" opacity="0.6"/>
<path d="M159.8 108.3 Q157.7 109.2 154.3 110.1" fill="none" stroke="#a07a48" stroke-width="0.5" opacity="0.6"/>
<path d="M72.9 59.8 Q79.3 59.9 84.6 63.6" fill="none" stroke="#a07a48" stroke-width="0.5" opacity="0.6"/>
<path d="M36.5 110.3 Q41.1 109.4 42.0 110.4" fill="none" stroke="#a07a48" stroke-width="0.5" opacity="0.6"/>
<path d="M172.3 123.0 Q165.7 124.3 159.3 121.2" fill="none" stroke="#a07a48" stroke-width="0.5" opacity="0.6"/>
<path d="M71.6 57.9 Q68.2 56.5 66.4 54.0" fill="none" stroke="#a07a48" stroke-width="0.5" opacity="0.6"/>
<path d="M25.8 89.9 Q30.1 92.0 31.9 90.3" fill="none" stroke="#a07a48" stroke-width="0.5" opacity="0.6"/>
<path d="M176.5 70.8 Q168.6 70.4 166.0 65.5" fill="none" stroke="#a07a48" stroke-width="0.5" opacity="0.6"/>
<path d="M192.0 87.5 Q193.9 91.1 201.7 89.2" fill="none" stroke="#a07a48" stroke-width="0.5" opacity="0.6"/>
<path d="M64.1 57.5 Q55.8 57.8 53.0 62.8" fill="none" stroke="#a07a48" stroke-width="0.5" opacity="0.6"/>
<path d="M147.3 58.7 Q151.7 57.2 155.9 53.2" fill="none" stroke="#a07a48" stroke-width="0.5" opacity="0.6"/>
<path d="M43.0 123.5 Q40.2 122.1 37.6 120.7" fill="none" stroke="#a07a48" stroke-width="0.5" opacity="0.6"/>
<path d="M73.9 51.7 Q70.9 49.6 63.6 51.6" fill="none" stroke="#a07a48" stroke-width="0.5" opacity="0.6"/>
<path d="M125.2 111.7 Q130.9 108.9 137.9 107.0" fill="none" stroke="#a07a48" stroke-width="0.5" opacity="0.6"/>
<path d="M172.0 90.5 Q177.0 88.9 183.9 90.4" fill="none" stroke="#a07a48" stroke-width="0.5" opacity="0.6"/>
</g>
<line x1="111.1" y1="134.0" x2="111.1" y2="154.7" stroke="#44546a" stroke-width="2.2"/>
<path d="M111.1 161.0 L107.4 154.0 L111.1 154.7 L114.8 154.0 Z" fill="#44546a"/>
<defs><clipPath id="pclip"><rect x="45.7" y="164.3" width="139.3" height="138.7"/></clipPath><radialGradient id="pw" cx="0.55" cy="0.55" r="0.6"><stop offset="0" stop-color="#ffffff"/><stop offset="0.6" stop-color="#fafafa"/><stop offset="1" stop-color="#e4e4e4"/></radialGradient></defs>
<g id="powder" clip-path="url(#pclip)">
<rect x="45.7" y="164.3" width="139.3" height="138.7" fill="#4a1f16"/>
<g filter="url(#bl1)">
<polygon points="159,164 173,164 175,180 165,188 158,180" fill="#a8a0a0"/>
<polygon points="123,164 141,164 141,178 130,176" fill="#7a6662"/>
<polygon points="173,164 186,164 186,262 178,262 170,230 166,200 160,185" fill="#553630"/>
<path d="M162 166 Q172 172 184 170" fill="none" stroke="#d8d4d2" stroke-width="3"/>
<path d="M166 178 Q176 184 185 190" fill="none" stroke="#b8b0ae" stroke-width="2.5"/>
<path d="M172 200 Q178 205 185 212" fill="none" stroke="#a09492" stroke-width="2"/>
<path d="M176 222 Q180 230 185 236" fill="none" stroke="#a89c9a" stroke-width="2"/>
<path d="M177 240 Q180 248 184 256" fill="none" stroke="#9a8e8c" stroke-width="1.8"/>
<polygon points="112,294 128,292 140,287 152,289 171,291 180,300 186,303 105,303" fill="#5a3a32"/>
<circle cx="115" cy="297" r="3" fill="#8a7a76"/>
<circle cx="142" cy="291" r="2.5" fill="#9a8a86"/>
</g>
<defs><filter id="rough" x="-10%" y="-10%" width="120%" height="120%"><feTurbulence type="fractalNoise" baseFrequency="0.18" numOctaves="2" seed="4" result="n"/><feDisplacementMap in="SourceGraphic" in2="n" scale="5" xChannelSelector="R" yChannelSelector="G" result="d"/><feGaussianBlur in="d" stdDeviation="0.6"/></filter></defs>
<polygon points="46.2,220.8 50.5,210 48.4,201.2 52.7,191.4 58.2,184.9 69,178.3 80,176.2 84,169 86,165 90,170 97.4,170.7 102.8,164.2 125,164.2 130,172 138,176 141.4,178.3 150,179 157.8,181.6 164.3,193.6 168.7,203.4 175.2,214.3 181.7,227.4 184.5,236 178,252 175.2,263 173,275.8 174.1,289 170.8,291 150,288.8 139.2,286.7 128,291 118,293.5 109.4,294.3 100,300 89.8,302 80,295.4 71.2,288.8 61.4,284.5 58.2,278 45.6,272.5 45.6,258.3 48,258 48,237.6 45.6,237.6" fill="url(#pw)" filter="url(#rough)"/>
<g filter="url(#bl2)" opacity="0.5">
<path d="M60 200 Q80 185 110 182" fill="none" stroke="#d0d0d0" stroke-width="2"/>
<path d="M55 240 Q62 210 90 195" fill="none" stroke="#d8d8d8" stroke-width="2"/>
<path d="M150 195 Q165 215 168 250" fill="none" stroke="#d8d8d8" stroke-width="2"/>
</g>
</g>
<line x1="108.2" y1="311.3" x2="108.2" y2="343.5" stroke="#44546a" stroke-width="1.9"/>
<path d="M108.2 349.8 L104.6 342.8 L108.2 343.5 L111.8 342.8 Z" fill="#44546a"/>
<rect x="8" y="351.2" width="206.5" height="43.7" fill="#9dc3e6"/>
<rect x="8" y="403" width="206.5" height="43.7" fill="#00b0f0"/>
<rect x="8" y="453.2" width="206.5" height="49.2" fill="#ffcccc"/>
<text x="111.2" y="382" font-size="23.3" text-anchor="middle" fill="#111">Native starch</text>
<text x="111.2" y="433.5" font-size="23.3" text-anchor="middle" fill="#111">Annealed starch</text>
<text x="111.2" y="472" font-size="23.3" text-anchor="middle" fill="#111">Heat-moisture</text>
<text x="111.2" y="498.5" font-size="23.3" text-anchor="middle" fill="#111">treated starch</text>
<path d="M248 193 L276.6 193 L276.6 182 L297 203.5 L276.6 224 L276.6 214 L248 214 L259 203.5 Z" fill="#843c0c" stroke="#203864" stroke-width="1"/>
<rect x="306.2" y="1" width="609.2" height="245.9" fill="none" stroke="#3e3b36" stroke-width="1.5"/>
<rect x="368.5" y="4.7" width="220.5" height="177.60000000000002" fill="none" stroke="#444" stroke-width="1.4"/>
<line x1="367.8" y1="182.3" x2="589.7" y2="182.3" stroke="#1a1a1a" stroke-width="2"/>
<line x1="368.5" y1="182.3" x2="372.0" y2="182.3" stroke="#333" stroke-width="1.2"/>
<text x="364.6" y="186.1" font-size="11" text-anchor="end" fill="#2a2a2a">0</text>
<line x1="368.5" y1="140.0" x2="372.0" y2="140.0" stroke="#333" stroke-width="1.2"/>
<text x="364.6" y="143.8" font-size="11" text-anchor="end" fill="#2a2a2a">10</text>
<line x1="368.5" y1="97.7" x2="372.0" y2="97.7" stroke="#333" stroke-width="1.2"/>
<text x="364.6" y="101.5" font-size="11" text-anchor="end" fill="#2a2a2a">20</text>
<line x1="368.5" y1="55.3" x2="372.0" y2="55.3" stroke="#333" stroke-width="1.2"/>
<text x="364.6" y="59.1" font-size="11" text-anchor="end" fill="#2a2a2a">30</text>
<line x1="368.5" y1="13.0" x2="372.0" y2="13.0" stroke="#333" stroke-width="1.2"/>
<text x="364.6" y="16.8" font-size="11" text-anchor="end" fill="#2a2a2a">40</text>
<text transform="translate(346.3,93.2) rotate(-90)" font-size="15.2" text-anchor="middle" fill="#222">Amylose (%)</text>
<rect x="376.6" y="51.9" width="10" height="130.4" fill="#8fd3ef" stroke="#555" stroke-width="0.7"/>
<line x1="378.6" y1="51.9" x2="384.6" y2="51.9" stroke="#111" stroke-width="1.2"/>
<text x="381.6" y="48.9" font-size="8" text-anchor="middle" fill="#222">e</text>
<rect x="388.4" y="49.0" width="10" height="133.3" fill="#0aa3dc" stroke="#555" stroke-width="0.7"/>
<line x1="390.4" y1="49.0" x2="396.4" y2="49.0" stroke="#111" stroke-width="1.2"/>
<text x="393.4" y="46.0" font-size="8" text-anchor="middle" fill="#222">d</text>
<rect x="400.2" y="35.4" width="10" height="146.9" fill="#e99fc1" stroke="#555" stroke-width="0.7"/>
<line x1="402.2" y1="35.4" x2="408.2" y2="35.4" stroke="#111" stroke-width="1.2"/>
<text x="405.2" y="32.4" font-size="8" text-anchor="middle" fill="#222">b</text>
<rect x="412.0" y="29.9" width="10" height="152.4" fill="#dc4459" stroke="#555" stroke-width="0.7"/>
<line x1="414.0" y1="29.9" x2="420.0" y2="29.9" stroke="#111" stroke-width="1.2"/>
<text x="417.0" y="26.9" font-size="8" text-anchor="middle" fill="#222">a</text>
<rect x="423.8" y="42.6" width="10" height="139.7" fill="#a9d08e" stroke="#555" stroke-width="0.7"/>
<line x1="425.8" y1="42.6" x2="431.8" y2="42.6" stroke="#111" stroke-width="1.2"/>
<text x="428.8" y="39.6" font-size="8" text-anchor="middle" fill="#222">c</text>
<text x="377.4" y="190" font-size="6" font-weight="bold" text-anchor="middle" fill="#333">0</text>
<text x="392.9" y="190" font-size="6" font-weight="bold" text-anchor="middle" fill="#333">8</text>
<text x="405.1" y="190" font-size="6" font-weight="bold" text-anchor="middle" fill="#333">16</text>
<text x="416.5" y="190" font-size="6" font-weight="bold" text-anchor="middle" fill="#333">24</text>
<text x="432.0" y="190" font-size="6" font-weight="bold" text-anchor="middle" fill="#333">32</text>
<line x1="375.0" y1="192.5" x2="434.8" y2="192.5" stroke="#222" stroke-width="1.5"/>
<text x="404.6" y="205" font-size="12" text-anchor="middle" fill="#222">NS</text>
<rect x="449.6" y="25.7" width="10" height="156.6" fill="#8fd3ef" stroke="#555" stroke-width="0.7"/>
<line x1="451.6" y1="25.7" x2="457.6" y2="25.7" stroke="#111" stroke-width="1.2"/>
<text x="454.6" y="22.7" font-size="8" text-anchor="middle" fill="#222">b</text>
<rect x="461.4" y="51.1" width="10" height="131.2" fill="#0aa3dc" stroke="#555" stroke-width="0.7"/>
<line x1="463.4" y1="51.1" x2="469.4" y2="51.1" stroke="#111" stroke-width="1.2"/>
<text x="466.4" y="48.1" font-size="8" text-anchor="middle" fill="#222">d</text>
<rect x="473.2" y="20.2" width="10" height="162.1" fill="#e99fc1" stroke="#555" stroke-width="0.7"/>
<line x1="475.2" y1="20.2" x2="481.2" y2="20.2" stroke="#111" stroke-width="1.2"/>
<text x="478.2" y="17.2" font-size="8" text-anchor="middle" fill="#222">a</text>
<rect x="485.0" y="29.1" width="10" height="153.2" fill="#dc4459" stroke="#555" stroke-width="0.7"/>
<line x1="487.0" y1="29.1" x2="493.0" y2="29.1" stroke="#111" stroke-width="1.2"/>
<text x="490.0" y="26.1" font-size="8" text-anchor="middle" fill="#222">c</text>
<rect x="496.8" y="30.4" width="10" height="151.9" fill="#a9d08e" stroke="#555" stroke-width="0.7"/>
<line x1="498.8" y1="30.4" x2="504.8" y2="30.4" stroke="#111" stroke-width="1.2"/>
<text x="501.8" y="27.4" font-size="8" text-anchor="middle" fill="#222">c</text>
<text x="450.4" y="190" font-size="6" font-weight="bold" text-anchor="middle" fill="#333">0</text>
<text x="465.9" y="190" font-size="6" font-weight="bold" text-anchor="middle" fill="#333">8</text>
<text x="478.1" y="190" font-size="6" font-weight="bold" text-anchor="middle" fill="#333">16</text>
<text x="489.5" y="190" font-size="6" font-weight="bold" text-anchor="middle" fill="#333">24</text>
<text x="505.0" y="190" font-size="6" font-weight="bold" text-anchor="middle" fill="#333">32</text>
<line x1="448.0" y1="192.5" x2="507.8" y2="192.5" stroke="#222" stroke-width="1.5"/>
<text x="477.6" y="205" font-size="12" text-anchor="middle" fill="#222">ANN</text>
<rect x="523.3" y="79.0" width="10" height="103.3" fill="#8fd3ef" stroke="#555" stroke-width="0.7"/>
<line x1="525.3" y1="79.0" x2="531.3" y2="79.0" stroke="#111" stroke-width="1.2"/>
<text x="528.3" y="76.0" font-size="8" text-anchor="middle" fill="#222">e</text>
<rect x="535.1" y="65.9" width="10" height="116.4" fill="#0aa3dc" stroke="#555" stroke-width="0.7"/>
<line x1="537.1" y1="65.9" x2="543.1" y2="65.9" stroke="#111" stroke-width="1.2"/>
<text x="540.1" y="62.9" font-size="8" text-anchor="middle" fill="#222">d</text>
<rect x="546.9" y="29.1" width="10" height="153.2" fill="#e99fc1" stroke="#555" stroke-width="0.7"/>
<line x1="548.9" y1="29.1" x2="554.9" y2="29.1" stroke="#111" stroke-width="1.2"/>
<text x="551.9" y="26.1" font-size="8" text-anchor="middle" fill="#222">b</text>
<rect x="558.7" y="24.9" width="10" height="157.4" fill="#dc4459" stroke="#555" stroke-width="0.7"/>
<line x1="560.7" y1="24.9" x2="566.7" y2="24.9" stroke="#111" stroke-width="1.2"/>
<text x="563.7" y="21.9" font-size="8" text-anchor="middle" fill="#222">a</text>
<rect x="570.5" y="37.5" width="10" height="144.8" fill="#a9d08e" stroke="#555" stroke-width="0.7"/>
<line x1="572.5" y1="37.5" x2="578.5" y2="37.5" stroke="#111" stroke-width="1.2"/>
<text x="575.5" y="34.5" font-size="8" text-anchor="middle" fill="#222">c</text>
<text x="524.1" y="190" font-size="6" font-weight="bold" text-anchor="middle" fill="#333">0</text>
<text x="539.6" y="190" font-size="6" font-weight="bold" text-anchor="middle" fill="#333">8</text>
<text x="551.8" y="190" font-size="6" font-weight="bold" text-anchor="middle" fill="#333">16</text>
<text x="563.2" y="190" font-size="6" font-weight="bold" text-anchor="middle" fill="#333">24</text>
<text x="578.7" y="190" font-size="6" font-weight="bold" text-anchor="middle" fill="#333">32</text>
<line x1="521.7" y1="192.5" x2="581.5" y2="192.5" stroke="#222" stroke-width="1.5"/>
<text x="551.3" y="205" font-size="12" text-anchor="middle" fill="#222">HMT</text>
<line x1="440" y1="4.7" x2="440" y2="182.3" stroke="#555" stroke-width="1" stroke-dasharray="3,2.5"/>
<line x1="517.6" y1="4.7" x2="517.6" y2="182.3" stroke="#555" stroke-width="1" stroke-dasharray="3,2.5"/>
<rect x="368.5" y="4.7" width="220.5" height="177.60000000000002" fill="none" stroke="#444" stroke-width="1.4"/>
<line x1="367.8" y1="182.3" x2="589.7" y2="182.3" stroke="#1a1a1a" stroke-width="2"/>
<line x1="368.5" y1="4.7" x2="368.5" y2="182.3" stroke="#333" stroke-width="1.7"/>
<rect x="645.7" y="4.6" width="222.89999999999998" height="179.0" fill="none" stroke="#2a2a2a" stroke-width="1.6"/>
<line x1="644.9000000000001" y1="183.6" x2="869.4" y2="183.6" stroke="#1a1a1a" stroke-width="2"/>
<line x1="645.7" y1="183.6" x2="642.7" y2="183.6" stroke="#333" stroke-width="1.2"/>
<text x="641.8" y="187.4" font-size="11" text-anchor="end" fill="#2a2a2a">0</text>
<line x1="645.7" y1="150.9" x2="642.7" y2="150.9" stroke="#333" stroke-width="1.2"/>
<text x="641.8" y="154.7" font-size="11" text-anchor="end" fill="#2a2a2a">20</text>
<line x1="645.7" y1="118.3" x2="642.7" y2="118.3" stroke="#333" stroke-width="1.2"/>
<text x="641.8" y="122.1" font-size="11" text-anchor="end" fill="#2a2a2a">40</text>
<line x1="645.7" y1="85.6" x2="642.7" y2="85.6" stroke="#333" stroke-width="1.2"/>
<text x="641.8" y="89.4" font-size="11" text-anchor="end" fill="#2a2a2a">60</text>
<line x1="645.7" y1="53.0" x2="642.7" y2="53.0" stroke="#333" stroke-width="1.2"/>
<text x="641.8" y="56.8" font-size="11" text-anchor="end" fill="#2a2a2a">80</text>
<line x1="645.7" y1="20.3" x2="642.7" y2="20.3" stroke="#333" stroke-width="1.2"/>
<text x="641.8" y="24.1" font-size="11" text-anchor="end" fill="#2a2a2a">100</text>
<text transform="translate(623,94) rotate(-90)" font-size="15.3" text-anchor="middle" fill="#222">Digestive fragment (%)</text>
<rect x="646.6" y="20.3" width="12.3" height="53.2" fill="#f5aa62"/>
<rect x="646.6" y="73.5" width="12.3" height="48.8" fill="#c6e6a6"/>
<rect x="646.6" y="122.4" width="12.3" height="61.2" fill="#3d97b5"/>
<path d="M650.8 17.8 H654.8 M652.8 17.8 V22.8 M650.8 22.8 H654.8" stroke="#222" stroke-width="0.9" fill="none"/>
<path d="M650.8 72.1 H654.8 M652.8 72.1 V74.9 M650.8 74.9 H654.8" stroke="#222" stroke-width="0.9" fill="none"/>
<path d="M650.8 121.3 H654.8 M652.8 121.3 V123.4 M650.8 123.4 H654.8" stroke="#222" stroke-width="0.9" fill="none"/>
<text x="652.8" y="49.9" font-size="8" text-anchor="middle" fill="#333">d</text>
<text x="652.8" y="100.9" font-size="8" text-anchor="middle" fill="#333">b</text>
<text x="652.8" y="156.0" font-size="8" text-anchor="middle" fill="#222">a</text>
<rect x="661.5" y="20.3" width="12.3" height="58.8" fill="#f5aa62"/>
<rect x="661.5" y="79.1" width="12.3" height="52.6" fill="#c6e6a6"/>
<rect x="661.5" y="131.7" width="12.3" height="51.9" fill="#3d97b5"/>
<path d="M665.6 18.7 H669.6 M667.6 18.7 V21.9 M665.6 21.9 H669.6" stroke="#222" stroke-width="0.9" fill="none"/>
<path d="M665.6 77.5 H669.6 M667.6 77.5 V80.6 M665.6 80.6 H669.6" stroke="#222" stroke-width="0.9" fill="none"/>
<path d="M665.6 129.6 H669.6 M667.6 129.6 V133.7 M665.6 133.7 H669.6" stroke="#222" stroke-width="0.9" fill="none"/>
<text x="667.6" y="52.7" font-size="8" text-anchor="middle" fill="#333">c</text>
<text x="667.6" y="108.4" font-size="8" text-anchor="middle" fill="#333">a</text>
<text x="667.6" y="160.6" font-size="8" text-anchor="middle" fill="#222">b</text>
<rect x="676.3" y="20.3" width="12.3" height="61.6" fill="#f5aa62"/>
<rect x="676.3" y="81.9" width="12.3" height="54.7" fill="#c6e6a6"/>
<rect x="676.3" y="136.6" width="12.3" height="47.0" fill="#3d97b5"/>
<path d="M680.5 18.7 H684.5 M682.5 18.7 V21.9 M680.5 21.9 H684.5" stroke="#222" stroke-width="0.9" fill="none"/>
<path d="M680.5 79.8 H684.5 M682.5 79.8 V83.9 M680.5 83.9 H684.5" stroke="#222" stroke-width="0.9" fill="none"/>
<path d="M680.5 135.0 H684.5 M682.5 135.0 V138.1 M680.5 138.1 H684.5" stroke="#222" stroke-width="0.9" fill="none"/>
<text x="682.5" y="54.1" font-size="8" text-anchor="middle" fill="#333">b</text>
<text x="682.5" y="112.2" font-size="8" text-anchor="middle" fill="#333">a</text>
<text x="682.5" y="163.1" font-size="8" text-anchor="middle" fill="#222">c</text>
<rect x="691.2" y="20.3" width="12.3" height="71.9" fill="#f5aa62"/>
<rect x="691.2" y="92.2" width="12.3" height="45.2" fill="#c6e6a6"/>
<rect x="691.2" y="137.4" width="12.3" height="46.2" fill="#3d97b5"/>
<path d="M695.3 17.8 H699.3 M697.3 17.8 V22.8 M695.3 22.8 H699.3" stroke="#222" stroke-width="0.9" fill="none"/>
<path d="M695.3 90.6 H699.3 M697.3 90.6 V93.7 M695.3 93.7 H699.3" stroke="#222" stroke-width="0.9" fill="none"/>
<path d="M695.3 134.9 H699.3 M697.3 134.9 V139.9 M695.3 139.9 H699.3" stroke="#222" stroke-width="0.9" fill="none"/>
<text x="697.3" y="59.2" font-size="8" text-anchor="middle" fill="#333">a</text>
<text x="697.3" y="117.8" font-size="8" text-anchor="middle" fill="#333">c</text>
<text x="697.3" y="163.5" font-size="8" text-anchor="middle" fill="#222">c</text>
<rect x="706.0" y="20.3" width="12.3" height="64.2" fill="#f5aa62"/>
<rect x="706.0" y="84.5" width="12.3" height="55.7" fill="#c6e6a6"/>
<rect x="706.0" y="140.2" width="12.3" height="43.4" fill="#3d97b5"/>
<path d="M710.2 18.9 H714.2 M712.2 18.9 V21.7 M710.2 21.7 H714.2" stroke="#222" stroke-width="0.9" fill="none"/>
<path d="M710.2 82.4 H714.2 M712.2 82.4 V86.5 M710.2 86.5 H714.2" stroke="#222" stroke-width="0.9" fill="none"/>
<path d="M710.2 138.6 H714.2 M712.2 138.6 V141.7 M710.2 141.7 H714.2" stroke="#222" stroke-width="0.9" fill="none"/>
<text x="712.2" y="55.4" font-size="8" text-anchor="middle" fill="#333">b</text>
<text x="712.2" y="115.3" font-size="8" text-anchor="middle" fill="#333">a</text>
<text x="712.2" y="164.9" font-size="8" text-anchor="middle" fill="#222">d</text>
<rect x="720.9" y="20.3" width="12.3" height="54.5" fill="#f5aa62"/>
<rect x="720.9" y="74.8" width="12.3" height="60.7" fill="#c6e6a6"/>
<rect x="720.9" y="135.6" width="12.3" height="48.0" fill="#3d97b5"/>
<path d="M725.0 18.4 H729.0 M727.0 18.4 V22.2 M725.0 22.2 H729.0" stroke="#222" stroke-width="0.9" fill="none"/>
<path d="M725.0 73.4 H729.0 M727.0 73.4 V76.2 M725.0 76.2 H729.0" stroke="#222" stroke-width="0.9" fill="none"/>
<path d="M725.0 134.0 H729.0 M727.0 134.0 V137.1 M725.0 137.1 H729.0" stroke="#222" stroke-width="0.9" fill="none"/>
<text x="727.0" y="50.6" font-size="8" text-anchor="middle" fill="#333">c</text>
<text x="727.0" y="108.2" font-size="8" text-anchor="middle" fill="#333">ab</text>
<text x="727.0" y="162.6" font-size="8" text-anchor="middle" fill="#222">a</text>
<rect x="735.8" y="20.3" width="12.3" height="59.0" fill="#f5aa62"/>
<rect x="735.8" y="79.3" width="12.3" height="55.8" fill="#c6e6a6"/>
<rect x="735.8" y="135.1" width="12.3" height="48.5" fill="#3d97b5"/>
<path d="M739.9 17.8 H743.9 M741.9 17.8 V22.8 M739.9 22.8 H743.9" stroke="#222" stroke-width="0.9" fill="none"/>
<path d="M739.9 76.7 H743.9 M741.9 76.7 V81.8 M739.9 81.8 H743.9" stroke="#222" stroke-width="0.9" fill="none"/>
<path d="M739.9 132.7 H743.9 M741.9 132.7 V137.5 M739.9 137.5 H743.9" stroke="#222" stroke-width="0.9" fill="none"/>
<text x="741.9" y="52.8" font-size="8" text-anchor="middle" fill="#333">b</text>
<text x="741.9" y="110.2" font-size="8" text-anchor="middle" fill="#333">c</text>
<text x="741.9" y="162.3" font-size="8" text-anchor="middle" fill="#222">a</text>
<rect x="750.6" y="20.3" width="12.3" height="60.6" fill="#f5aa62"/>
<rect x="750.6" y="80.9" width="12.3" height="61.7" fill="#c6e6a6"/>
<rect x="750.6" y="142.6" width="12.3" height="41.0" fill="#3d97b5"/>
<path d="M754.8 18.7 H758.8 M756.8 18.7 V21.9 M754.8 21.9 H758.8" stroke="#222" stroke-width="0.9" fill="none"/>
<path d="M754.8 78.8 H758.8 M756.8 78.8 V82.9 M754.8 82.9 H758.8" stroke="#222" stroke-width="0.9" fill="none"/>
<path d="M754.8 140.7 H758.8 M756.8 140.7 V144.5 M754.8 144.5 H758.8" stroke="#222" stroke-width="0.9" fill="none"/>
<text x="756.8" y="53.6" font-size="8" text-anchor="middle" fill="#333">b</text>
<text x="756.8" y="114.7" font-size="8" text-anchor="middle" fill="#333">a</text>
<text x="756.8" y="166.1" font-size="8" text-anchor="middle" fill="#222">b</text>
<rect x="765.5" y="20.3" width="12.3" height="61.1" fill="#f5aa62"/>
<rect x="765.5" y="81.4" width="12.3" height="63.4" fill="#c6e6a6"/>
<rect x="765.5" y="144.7" width="12.3" height="38.9" fill="#3d97b5"/>
<path d="M769.6 18.7 H773.6 M771.6 18.7 V21.9 M769.6 21.9 H773.6" stroke="#222" stroke-width="0.9" fill="none"/>
<path d="M769.6 79.8 H773.6 M771.6 79.8 V82.9 M769.6 82.9 H773.6" stroke="#222" stroke-width="0.9" fill="none"/>
<path d="M769.6 143.3 H773.6 M771.6 143.3 V146.1 M769.6 146.1 H773.6" stroke="#222" stroke-width="0.9" fill="none"/>
<text x="771.6" y="53.8" font-size="8" text-anchor="middle" fill="#333">b</text>
<text x="771.6" y="116.1" font-size="8" text-anchor="middle" fill="#333">a</text>
<text x="771.6" y="167.2" font-size="8" text-anchor="middle" fill="#222">b</text>
<rect x="780.3" y="20.3" width="12.3" height="65.2" fill="#f5aa62"/>
<rect x="780.3" y="85.5" width="12.3" height="56.8" fill="#c6e6a6"/>
<rect x="780.3" y="142.3" width="12.3" height="41.3" fill="#3d97b5"/>
<path d="M784.5 18.9 H788.5 M786.5 18.9 V21.7 M784.5 21.7 H788.5" stroke="#222" stroke-width="0.9" fill="none"/>
<path d="M784.5 83.4 H788.5 M786.5 83.4 V87.5 M784.5 87.5 H788.5" stroke="#222" stroke-width="0.9" fill="none"/>
<path d="M784.5 139.6 H788.5 M786.5 139.6 V145.0 M784.5 145.0 H788.5" stroke="#222" stroke-width="0.9" fill="none"/>
<text x="786.5" y="55.9" font-size="8" text-anchor="middle" fill="#333">a</text>
<text x="786.5" y="116.9" font-size="8" text-anchor="middle" fill="#333">bc</text>
<text x="786.5" y="165.9" font-size="8" text-anchor="middle" fill="#222">b</text>
<rect x="795.2" y="20.3" width="12.3" height="40.0" fill="#f5aa62"/>
<rect x="795.2" y="60.3" width="12.3" height="65.3" fill="#c6e6a6"/>
<rect x="795.2" y="125.6" width="12.3" height="58.0" fill="#3d97b5"/>
<path d="M799.4 17.5 H803.4 M801.4 17.5 V23.1 M799.4 23.1 H803.4" stroke="#222" stroke-width="0.9" fill="none"/>
<path d="M799.4 58.9 H803.4 M801.4 58.9 V61.7 M799.4 61.7 H803.4" stroke="#222" stroke-width="0.9" fill="none"/>
<path d="M799.4 123.7 H803.4 M801.4 123.7 V127.5 M799.4 127.5 H803.4" stroke="#222" stroke-width="0.9" fill="none"/>
<text x="801.4" y="43.3" font-size="8" text-anchor="middle" fill="#333">c</text>
<text x="801.4" y="96.0" font-size="8" text-anchor="middle" fill="#333">c</text>
<text x="801.4" y="157.6" font-size="8" text-anchor="middle" fill="#222">a</text>
<rect x="810.1" y="20.3" width="12.3" height="43.6" fill="#f5aa62"/>
<rect x="810.1" y="63.9" width="12.3" height="69.4" fill="#c6e6a6"/>
<rect x="810.1" y="133.3" width="12.3" height="50.3" fill="#3d97b5"/>
<path d="M814.2 18.9 H818.2 M816.2 18.9 V21.7 M814.2 21.7 H818.2" stroke="#222" stroke-width="0.9" fill="none"/>
<path d="M814.2 61.7 H818.2 M816.2 61.7 V66.1 M814.2 66.1 H818.2" stroke="#222" stroke-width="0.9" fill="none"/>
<path d="M814.2 131.3 H818.2 M816.2 131.3 V135.3 M814.2 135.3 H818.2" stroke="#222" stroke-width="0.9" fill="none"/>
<text x="816.2" y="45.1" font-size="8" text-anchor="middle" fill="#333">bc</text>
<text x="816.2" y="101.6" font-size="8" text-anchor="middle" fill="#333">b</text>
<text x="816.2" y="161.5" font-size="8" text-anchor="middle" fill="#222">b</text>
<rect x="824.9" y="20.3" width="12.3" height="48.3" fill="#f5aa62"/>
<rect x="824.9" y="68.6" width="12.3" height="68.6" fill="#c6e6a6"/>
<rect x="824.9" y="137.2" width="12.3" height="46.4" fill="#3d97b5"/>
<path d="M829.1 18.6 H833.1 M831.1 18.6 V22.0 M829.1 22.0 H833.1" stroke="#222" stroke-width="0.9" fill="none"/>
<path d="M829.1 66.4 H833.1 M831.1 66.4 V70.8 M829.1 70.8 H833.1" stroke="#222" stroke-width="0.9" fill="none"/>
<path d="M829.1 135.7 H833.1 M831.1 135.7 V138.8 M829.1 138.8 H833.1" stroke="#222" stroke-width="0.9" fill="none"/>
<text x="831.1" y="47.5" font-size="8" text-anchor="middle" fill="#333">a</text>
<text x="831.1" y="105.9" font-size="8" text-anchor="middle" fill="#333">bc</text>
<text x="831.1" y="163.4" font-size="8" text-anchor="middle" fill="#222">c</text>
<rect x="839.8" y="20.3" width="12.3" height="49.6" fill="#f5aa62"/>
<rect x="839.8" y="69.9" width="12.3" height="74.6" fill="#c6e6a6"/>
<rect x="839.8" y="144.6" width="12.3" height="39.0" fill="#3d97b5"/>
<path d="M843.9 17.1 H847.9 M845.9 17.1 V23.5 M843.9 23.5 H847.9" stroke="#222" stroke-width="0.9" fill="none"/>
<path d="M843.9 67.3 H847.9 M845.9 67.3 V72.6 M843.9 72.6 H847.9" stroke="#222" stroke-width="0.9" fill="none"/>
<path d="M843.9 142.5 H847.9 M845.9 142.5 V146.6 M843.9 146.6 H847.9" stroke="#222" stroke-width="0.9" fill="none"/>
<text x="845.9" y="48.1" font-size="8" text-anchor="middle" fill="#333">a</text>
<text x="845.9" y="110.3" font-size="8" text-anchor="middle" fill="#333">a</text>
<text x="845.9" y="167.1" font-size="8" text-anchor="middle" fill="#222">d</text>
<rect x="854.6" y="20.3" width="12.3" height="46.9" fill="#f5aa62"/>
<rect x="854.6" y="67.2" width="12.3" height="78.1" fill="#c6e6a6"/>
<rect x="854.6" y="145.2" width="12.3" height="38.4" fill="#3d97b5"/>
<path d="M858.8 18.7 H862.8 M860.8 18.7 V21.9 M858.8 21.9 H862.8" stroke="#222" stroke-width="0.9" fill="none"/>
<path d="M858.8 65.3 H862.8 M860.8 65.3 V69.0 M858.8 69.0 H862.8" stroke="#222" stroke-width="0.9" fill="none"/>
<path d="M858.8 142.9 H862.8 M860.8 142.9 V147.6 M858.8 147.6 H862.8" stroke="#222" stroke-width="0.9" fill="none"/>
<text x="860.8" y="46.7" font-size="8" text-anchor="middle" fill="#333">ab</text>
<text x="860.8" y="109.2" font-size="8" text-anchor="middle" fill="#333">a</text>
<text x="860.8" y="167.4" font-size="8" text-anchor="middle" fill="#222">d</text>
<text transform="translate(649.8,193.7) rotate(32)" font-size="7.3" fill="#222">NS0</text>
<text transform="translate(664.7,193.7) rotate(32)" font-size="7.3" fill="#222">NS8</text>
<text transform="translate(679.5,193.7) rotate(32)" font-size="7.3" fill="#222">NS16</text>
<text transform="translate(694.4,193.7) rotate(32)" font-size="7.3" fill="#222">NS24</text>
<text transform="translate(709.2,193.7) rotate(32)" font-size="7.3" fill="#222">NS32</text>
<text transform="translate(724.1,193.7) rotate(32)" font-size="7.3" fill="#222">ANN0</text>
<text transform="translate(739.0,193.7) rotate(32)" font-size="7.3" fill="#222">ANN8</text>
<text transform="translate(753.8,193.7) rotate(32)" font-size="7.3" fill="#222">ANN16</text>
<text transform="translate(768.7,193.7) rotate(32)" font-size="7.3" fill="#222">ANN24</text>
<text transform="translate(783.5,193.7) rotate(32)" font-size="7.3" fill="#222">ANN32</text>
<text transform="translate(798.4,193.7) rotate(32)" font-size="7.3" fill="#222">HMT0</text>
<text transform="translate(813.3,193.7) rotate(32)" font-size="7.3" fill="#222">HMT8</text>
<text transform="translate(828.1,193.7) rotate(32)" font-size="7.3" fill="#222">HMT16</text>
<text transform="translate(843.0,193.7) rotate(32)" font-size="7.3" fill="#222">HMT24</text>
<text transform="translate(857.8,193.7) rotate(32)" font-size="7.3" fill="#222">HMT32</text>
<line x1="719.8" y1="20.30000000000001" x2="719.8" y2="183.6" stroke="#c04a78" stroke-width="1.3" stroke-dasharray="4,2"/>
<line x1="794.4" y1="20.30000000000001" x2="794.4" y2="183.6" stroke="#c04a78" stroke-width="1.3" stroke-dasharray="4,2"/>
<line x1="644.9000000000001" y1="183.6" x2="869.4" y2="183.6" stroke="#1a1a1a" stroke-width="2"/>
<line x1="645.7" y1="4.6" x2="645.7" y2="183.6" stroke="#222" stroke-width="1.7"/>
<line x1="868.6" y1="4.6" x2="868.6" y2="183.6" stroke="#222" stroke-width="1.6"/>
<rect x="695" y="7.3" width="21" height="10" fill="#f5aa62"/>
<text x="717" y="16" font-size="10" fill="#222">RS</text>
<rect x="729" y="7.3" width="20.5" height="10" fill="#c6e6a6"/>
<text x="751" y="16" font-size="10" fill="#222">SDS</text>
<rect x="769.5" y="7.3" width="21.5" height="10" fill="#3d97b5"/>
<text x="792.5" y="16" font-size="10" fill="#222">RDS</text>
<rect x="425.5" y="205.6" width="450.5" height="36.8" fill="#f8cbad"/>
<text x="440" y="231.8" font-size="23.1" fill="#111"><tspan font-style="italic">Lactobacillus plantarum</tspan> Fermentation</text>
<line x1="619.2" y1="246.5" x2="619.2" y2="266.0" stroke="#44546a" stroke-width="2.2"/>
<path d="M619.2 272.3 L615.2 265.3 L619.2 266.0 L623.2 265.3 Z" fill="#44546a"/>
<rect x="306" y="273" width="609.5" height="401.8" fill="none" stroke="#3e3b36" stroke-width="1.5"/>
<rect x="330" y="281.2" width="283.4" height="200.6" fill="none" stroke="#7030a0" stroke-width="2.1" stroke-dasharray="4,2.3"/>
<rect x="648" y="282.3" width="252.8" height="211.2" fill="none" stroke="#7030a0" stroke-width="2.1" stroke-dasharray="4,2.3"/>
<rect x="372.6" y="289.4" width="210.19999999999993" height="171.0" fill="none" stroke="#2e2e2e" stroke-width="1.6"/>
<line x1="372.6" y1="460.4" x2="375.90000000000003" y2="460.4" stroke="#333" stroke-width="1.2"/>
<text x="369.2" y="464.0" font-size="10.5" text-anchor="end" fill="#2a2a2a">0</text>
<line x1="372.6" y1="415.8" x2="375.90000000000003" y2="415.8" stroke="#333" stroke-width="1.2"/>
<text x="369.2" y="419.4" font-size="10.5" text-anchor="end" fill="#2a2a2a">60</text>
<line x1="372.6" y1="371.2" x2="375.90000000000003" y2="371.2" stroke="#333" stroke-width="1.2"/>
<text x="369.2" y="374.8" font-size="10.5" text-anchor="end" fill="#2a2a2a">120</text>
<line x1="372.6" y1="326.6" x2="375.90000000000003" y2="326.6" stroke="#333" stroke-width="1.2"/>
<text x="369.2" y="330.2" font-size="10.5" text-anchor="end" fill="#2a2a2a">180</text>
<text transform="translate(347,374.3) rotate(-90)" font-size="14.8" text-anchor="middle" fill="#1e1e1e">Total SCFAs (mg/L)</text>
<rect x="376.0" y="315.5" width="28.6" height="144.9" fill="#9bd6f0"/>
<line x1="387.0" y1="315.5" x2="393.0" y2="315.5" stroke="#222" stroke-width="1"/>
<text x="390.3" y="311.5" font-size="8.5" text-anchor="middle" fill="#222">a</text>
<text x="390.3" y="473" font-size="10.8" text-anchor="middle" fill="#222">NS0</text>
<line x1="390.3" y1="460.4" x2="390.3" y2="457.9" stroke="#333" stroke-width="1"/>
<rect x="411.2" y="392.0" width="28.6" height="68.4" fill="#0aa5dd"/>
<line x1="422.2" y1="392.0" x2="428.2" y2="392.0" stroke="#222" stroke-width="1"/>
<text x="425.5" y="388.0" font-size="8.5" text-anchor="middle" fill="#222">B</text>
<text x="425.5" y="473" font-size="10.8" text-anchor="middle" fill="#222">NS32</text>
<line x1="425.5" y1="460.4" x2="425.5" y2="457.9" stroke="#333" stroke-width="1"/>
<rect x="445.9" y="351.9" width="28.6" height="108.5" fill="#e9a0c3"/>
<line x1="456.9" y1="351.9" x2="462.9" y2="351.9" stroke="#222" stroke-width="1"/>
<text x="460.2" y="347.9" font-size="8.5" text-anchor="middle" fill="#222">c</text>
<text x="460.2" y="473" font-size="10.8" text-anchor="middle" fill="#222">ANN0</text>
<line x1="460.2" y1="460.4" x2="460.2" y2="457.9" stroke="#333" stroke-width="1"/>
<rect x="481.0" y="396.5" width="28.6" height="63.9" fill="#dc4557"/>
<line x1="492.0" y1="396.5" x2="498.0" y2="396.5" stroke="#222" stroke-width="1"/>
<text x="495.3" y="392.5" font-size="8.5" text-anchor="middle" fill="#222">C</text>
<text x="495.3" y="473" font-size="10.8" text-anchor="middle" fill="#222">ANN32</text>
<line x1="495.3" y1="460.4" x2="495.3" y2="457.9" stroke="#333" stroke-width="1"/>
<rect x="516.4" y="341.5" width="28.6" height="118.9" fill="#a9d18e"/>
<line x1="527.4" y1="341.5" x2="533.4" y2="341.5" stroke="#222" stroke-width="1"/>
<text x="530.7" y="337.5" font-size="8.5" text-anchor="middle" fill="#222">b</text>
<text x="530.7" y="473" font-size="10.8" text-anchor="middle" fill="#222">HMT0</text>
<line x1="530.7" y1="460.4" x2="530.7" y2="457.9" stroke="#333" stroke-width="1"/>
<rect x="551.8" y="369.7" width="28.6" height="90.7" fill="#22a84e"/>
<line x1="562.8" y1="369.7" x2="568.8" y2="369.7" stroke="#222" stroke-width="1"/>
<text x="566.1" y="365.7" font-size="8.5" text-anchor="middle" fill="#222">A</text>
<text x="566.1" y="473" font-size="10.8" text-anchor="middle" fill="#222">HMT32</text>
<line x1="566.1" y1="460.4" x2="566.1" y2="457.9" stroke="#333" stroke-width="1"/>
<text x="782.5" y="289" font-size="7.5" font-weight="bold" text-anchor="middle" fill="#222">PCoA on OTU level</text>
<rect x="688.6" y="294.0" width="191.79999999999995" height="180.89999999999998" fill="none" stroke="#777" stroke-width="0.8"/>
<line x1="688.6" y1="294.0" x2="688.6" y2="474.9" stroke="#666" stroke-width="1.1"/>
<line x1="688.6" y1="474.9" x2="880.4" y2="474.9" stroke="#555" stroke-width="1.1"/>
<line x1="686.6" y1="294.5" x2="688.6" y2="294.5" stroke="#444" stroke-width="0.7"/>
<text x="685.6" y="296.5" font-size="6" text-anchor="end" fill="#1e1e1e">0.25</text>
<line x1="686.6" y1="313.8" x2="688.6" y2="313.8" stroke="#444" stroke-width="0.7"/>
<text x="685.6" y="315.8" font-size="6" text-anchor="end" fill="#1e1e1e">0.2</text>
<line x1="686.6" y1="333.1" x2="688.6" y2="333.1" stroke="#444" stroke-width="0.7"/>
<text x="685.6" y="335.1" font-size="6" text-anchor="end" fill="#1e1e1e">0.15</text>
<line x1="686.6" y1="352.4" x2="688.6" y2="352.4" stroke="#444" stroke-width="0.7"/>
<text x="685.6" y="354.4" font-size="6" text-anchor="end" fill="#1e1e1e">0.1</text>
<line x1="686.6" y1="371.7" x2="688.6" y2="371.7" stroke="#444" stroke-width="0.7"/>
<text x="685.6" y="373.7" font-size="6" text-anchor="end" fill="#1e1e1e">0.05</text>
<line x1="686.6" y1="391.0" x2="688.6" y2="391.0" stroke="#444" stroke-width="0.7"/>
<text x="685.6" y="393.0" font-size="6" text-anchor="end" fill="#1e1e1e">0</text>
<line x1="686.6" y1="410.3" x2="688.6" y2="410.3" stroke="#444" stroke-width="0.7"/>
<text x="685.6" y="412.3" font-size="6" text-anchor="end" fill="#1e1e1e">-0.05</text>
<line x1="686.6" y1="429.6" x2="688.6" y2="429.6" stroke="#444" stroke-width="0.7"/>
<text x="685.6" y="431.6" font-size="6" text-anchor="end" fill="#1e1e1e">-0.1</text>
<line x1="686.6" y1="448.9" x2="688.6" y2="448.9" stroke="#444" stroke-width="0.7"/>
<text x="685.6" y="450.9" font-size="6" text-anchor="end" fill="#1e1e1e">-0.15</text>
<line x1="686.6" y1="468.2" x2="688.6" y2="468.2" stroke="#444" stroke-width="0.7"/>
<text x="685.6" y="470.2" font-size="6" text-anchor="end" fill="#1e1e1e">-0.2</text>
<line x1="688.8" y1="474.9" x2="688.8" y2="476.9" stroke="#444" stroke-width="0.7"/>
<text x="688.8" y="482.9" font-size="6" text-anchor="middle" fill="#1e1e1e">-0.14</text>
<line x1="702.5" y1="474.9" x2="702.5" y2="476.9" stroke="#444" stroke-width="0.7"/>
<text x="702.5" y="482.9" font-size="6" text-anchor="middle" fill="#1e1e1e">-0.12</text>
<line x1="716.1" y1="474.9" x2="716.1" y2="476.9" stroke="#444" stroke-width="0.7"/>
<text x="716.1" y="482.9" font-size="6" text-anchor="middle" fill="#1e1e1e">-0.1</text>
<line x1="729.8" y1="474.9" x2="729.8" y2="476.9" stroke="#444" stroke-width="0.7"/>
<text x="729.8" y="482.9" font-size="6" text-anchor="middle" fill="#1e1e1e">-0.08</text>
<line x1="743.5" y1="474.9" x2="743.5" y2="476.9" stroke="#444" stroke-width="0.7"/>
<text x="743.5" y="482.9" font-size="6" text-anchor="middle" fill="#1e1e1e">-0.06</text>
<line x1="757.2" y1="474.9" x2="757.2" y2="476.9" stroke="#444" stroke-width="0.7"/>
<text x="757.2" y="482.9" font-size="6" text-anchor="middle" fill="#1e1e1e">-0.04</text>
<line x1="770.8" y1="474.9" x2="770.8" y2="476.9" stroke="#444" stroke-width="0.7"/>
<text x="770.8" y="482.9" font-size="6" text-anchor="middle" fill="#1e1e1e">-0.02</text>
<line x1="784.5" y1="474.9" x2="784.5" y2="476.9" stroke="#444" stroke-width="0.7"/>
<text x="784.5" y="482.9" font-size="6" text-anchor="middle" fill="#1e1e1e">0</text>
<line x1="798.2" y1="474.9" x2="798.2" y2="476.9" stroke="#444" stroke-width="0.7"/>
<text x="798.2" y="482.9" font-size="6" text-anchor="middle" fill="#1e1e1e">0.02</text>
<line x1="811.8" y1="474.9" x2="811.8" y2="476.9" stroke="#444" stroke-width="0.7"/>
<text x="811.8" y="482.9" font-size="6" text-anchor="middle" fill="#1e1e1e">0.04</text>
<line x1="825.5" y1="474.9" x2="825.5" y2="476.9" stroke="#444" stroke-width="0.7"/>
<text x="825.5" y="482.9" font-size="6" text-anchor="middle" fill="#1e1e1e">0.06</text>
<line x1="839.2" y1="474.9" x2="839.2" y2="476.9" stroke="#444" stroke-width="0.7"/>
<text x="839.2" y="482.9" font-size="6" text-anchor="middle" fill="#1e1e1e">0.08</text>
<line x1="852.9" y1="474.9" x2="852.9" y2="476.9" stroke="#444" stroke-width="0.7"/>
<text x="852.9" y="482.9" font-size="6" text-anchor="middle" fill="#1e1e1e">0.1</text>
<line x1="866.5" y1="474.9" x2="866.5" y2="476.9" stroke="#444" stroke-width="0.7"/>
<text x="866.5" y="482.9" font-size="6" text-anchor="middle" fill="#1e1e1e">0.12</text>
<line x1="880.2" y1="474.9" x2="880.2" y2="476.9" stroke="#444" stroke-width="0.7"/>
<text x="880.2" y="482.9" font-size="6" text-anchor="middle" fill="#1e1e1e">0.14</text>
<text x="784.5" y="489.4" font-size="6.3" font-weight="bold" text-anchor="middle" fill="#222">PC1(44.7%)</text>
<text transform="translate(667.5,384) rotate(-90)" font-size="6.3" font-weight="bold" text-anchor="middle" fill="#222">PC2(32.16%)</text>
<line x1="784.5" y1="294.0" x2="784.5" y2="474.9" stroke="#808080" stroke-width="0.9" stroke-dasharray="1,1.2"/>
<line x1="688.6" y1="391.0" x2="880.4" y2="391.0" stroke="#808080" stroke-width="0.9" stroke-dasharray="1,1.2"/>
<ellipse cx="761.7" cy="409.4" rx="23.0" ry="2.6" transform="rotate(48.3 761.7 409.4)" fill="none" stroke="#1f4e8c" stroke-width="0.7"/>
<circle cx="750.6" cy="397.4" r="2.3" fill="#1f4e8c"/>
<circle cx="759.6" cy="405.4" r="2.3" fill="#1f4e8c"/>
<circle cx="774.9" cy="423.7" r="2.3" fill="#1f4e8c"/>
<ellipse cx="714.0" cy="379.5" rx="14.5" ry="2.2" transform="rotate(49.2 714.0 379.5)" fill="none" stroke="#e41a1c" stroke-width="0.7"/>
<circle cx="706.9" cy="371.6" r="2.3" fill="#e41a1c"/>
<circle cx="715.1" cy="383.0" r="2.3" fill="#e41a1c"/>
<circle cx="721.0" cy="387.6" r="2.3" fill="#e41a1c"/>
<ellipse cx="773.5" cy="420.7" rx="29.3" ry="1.0" transform="rotate(61.6 773.5 420.7)" fill="none" stroke="#3cb043" stroke-width="0.7"/>
<circle cx="762.8" cy="400.8" r="2.3" fill="#3cb043"/>
<circle cx="772.1" cy="417.6" r="2.3" fill="#3cb043"/>
<circle cx="786.2" cy="443.0" r="2.3" fill="#3cb043"/>
<ellipse cx="757.1" cy="381.9" rx="22.2" ry="3.3" transform="rotate(46.7 757.1 381.9)" fill="none" stroke="#2aa8c8" stroke-width="0.7"/>
<circle cx="745.1" cy="371.9" r="2.3" fill="#2aa8c8"/>
<circle cx="756.0" cy="376.9" r="2.3" fill="#2aa8c8"/>
<circle cx="770.2" cy="396.7" r="2.3" fill="#2aa8c8"/>
<ellipse cx="826.2" cy="360.9" rx="54.4" ry="1.4" transform="rotate(62.3 826.2 360.9)" fill="none" stroke="#8e44ad" stroke-width="0.7"/>
<circle cx="812.4" cy="333.0" r="2.3" fill="#8e44ad"/>
<circle cx="815.6" cy="341.9" r="2.3" fill="#8e44ad"/>
<circle cx="849.5" cy="404.2" r="2.3" fill="#8e44ad"/>
<ellipse cx="875.0" cy="392.0" rx="7.7" ry="1.2" transform="rotate(103.5 875.0 392.0)" fill="none" stroke="#f4a58a" stroke-width="0.7"/>
<circle cx="876.0" cy="387.1" r="2.3" fill="#f4a58a"/>
<circle cx="874.9" cy="390.5" r="2.3" fill="#f4a58a"/>
<circle cx="873.7" cy="397.4" r="2.3" fill="#f4a58a"/>
<ellipse cx="697.4" cy="298.6" rx="3" ry="2.6" fill="#1f4e8c"/>
<text x="701.3" y="300.3" font-size="4.8" fill="#444">NS0</text>
<ellipse cx="697.4" cy="306.2" rx="3" ry="2.6" fill="#e41a1c"/>
<text x="701.3" y="307.9" font-size="4.8" fill="#444">NS32</text>
<ellipse cx="697.4" cy="313.2" rx="3" ry="2.6" fill="#3cb043"/>
<text x="701.3" y="314.9" font-size="4.8" fill="#444">ANN0</text>
<ellipse cx="697.4" cy="320.7" rx="3" ry="2.6" fill="#2aa8c8"/>
<text x="701.3" y="322.4" font-size="4.8" fill="#444">ANN32</text>
<ellipse cx="697.4" cy="327.7" rx="3" ry="2.6" fill="#8e44ad"/>
<text x="701.3" y="329.4" font-size="4.8" fill="#444">HMT0</text>
<ellipse cx="697.4" cy="335.2" rx="3" ry="2.6" fill="#f4a58a"/>
<text x="701.3" y="336.9" font-size="4.8" fill="#444">HMT32</text>
<text x="703.4" y="368.4" font-size="7.2" fill="#222">NS32</text>
<text x="746.3" y="364.9" font-size="7.2" fill="#222">ANN32</text>
<text x="743" y="410.8" font-size="7.2" fill="#222">NS0</text>
<text x="791" y="442.6" font-size="7.2" fill="#222">ANN0</text>
<text x="817.4" y="330.4" font-size="7.2" fill="#222">HMT0</text>
<text x="853" y="381.1" font-size="7.2" fill="#222">HMT32</text>
<defs><filter id="bl05" x="-30%" y="-30%" width="160%" height="160%"><feGaussianBlur stdDeviation="0.45"/></filter></defs>
<g filter="url(#bl05)">
<ellipse cx="406.1" cy="496.5" rx="6.2" ry="7.2" fill="#eea676" stroke="#e09a6a" stroke-width="0.9"/>
<ellipse cx="454.1" cy="495.1" rx="6.2" ry="7.2" fill="#3b6fc8" stroke="#6a90d0" stroke-width="0.9"/>
<ellipse cx="388.3" cy="516.9" rx="6.2" ry="7.2" fill="#6e6c6a" stroke="#8a8886" stroke-width="0.9"/>
<ellipse cx="425.7" cy="511.9" rx="6.2" ry="7.2" fill="#c2dcb0" stroke="#b0cc9c" stroke-width="0.9"/>
<ellipse cx="454.1" cy="524.2" rx="6.2" ry="7.2" fill="#3a6cc8" stroke="#102a60" stroke-width="1.3"/>
<ellipse cx="406.1" cy="536.1" rx="6.2" ry="7.2" fill="#6e6c6a" stroke="#8a8886" stroke-width="0.9"/>
<ellipse cx="434.5" cy="546.2" rx="6.2" ry="7.2" fill="#f7dc80" stroke="#e8d0a0" stroke-width="0.9"/>
<ellipse cx="405.1" cy="566.6" rx="6.2" ry="7.2" fill="#f8c6ca" stroke="#ecbcc0" stroke-width="0.9"/>
<ellipse cx="428.6" cy="568.6" rx="6.2" ry="7.2" fill="#f8c6ca" stroke="#ecbcc0" stroke-width="0.9"/>
</g>
<line x1="415.9" y1="602.0" x2="415.9" y2="584.5" stroke="#44546a" stroke-width="2.3"/>
<path d="M415.9 577.8 L419.9 585.2 L415.9 584.5 L411.9 585.2 Z" fill="#44546a"/>
<text x="420.3" y="622.6" font-size="24" font-weight="bold" text-anchor="middle" fill="#111">SCFAs</text>
<line x1="509.2" y1="620.3" x2="484.6" y2="609.5" stroke="#44546a" stroke-width="2.5"/>
<path d="M476.5 606.0 L487.0 605.7 L484.6 609.5 L483.4 613.9 Z" fill="#44546a"/>
<g id="bowel">
<path d="M580 516 C590 508 640 508 650 516 L652 570 C646 584 600 586 582 578 Z" fill="#eba9a5"/>
<g opacity="0.9">
<ellipse cx="590" cy="522" rx="7" ry="5" fill="#e8a2a0" stroke="#d48886" stroke-width="0.7"/>
<ellipse cx="604" cy="520" rx="8" ry="5" fill="#e8a2a0" stroke="#d48886" stroke-width="0.7"/>
<ellipse cx="620" cy="524" rx="9" ry="6" fill="#e8a2a0" stroke="#d48886" stroke-width="0.7"/>
<ellipse cx="637" cy="520" rx="8" ry="5" fill="#e8a2a0" stroke="#d48886" stroke-width="0.7"/>
<ellipse cx="584" cy="538" rx="5" ry="8" fill="#e8a2a0" stroke="#d48886" stroke-width="0.7"/>
<ellipse cx="600" cy="536" rx="7" ry="7" fill="#e8a2a0" stroke="#d48886" stroke-width="0.7"/>
<ellipse cx="616" cy="540" rx="8" ry="7" fill="#e8a2a0" stroke="#d48886" stroke-width="0.7"/>
<ellipse cx="633" cy="538" rx="7" ry="7" fill="#e8a2a0" stroke="#d48886" stroke-width="0.7"/>
<ellipse cx="646" cy="536" rx="5" ry="8" fill="#e8a2a0" stroke="#d48886" stroke-width="0.7"/>
<ellipse cx="590" cy="556" rx="6" ry="7" fill="#e8a2a0" stroke="#d48886" stroke-width="0.7"/>
<ellipse cx="606" cy="556" rx="8" ry="6" fill="#e8a2a0" stroke="#d48886" stroke-width="0.7"/>
<ellipse cx="624" cy="558" rx="8" ry="6" fill="#e8a2a0" stroke="#d48886" stroke-width="0.7"/>
<ellipse cx="642" cy="556" rx="6" ry="7" fill="#e8a2a0" stroke="#d48886" stroke-width="0.7"/>
<ellipse cx="600" cy="572" rx="9" ry="5" fill="#e8a2a0" stroke="#d48886" stroke-width="0.7"/>
<ellipse cx="622" cy="574" rx="9" ry="5" fill="#e8a2a0" stroke="#d48886" stroke-width="0.7"/>
<ellipse cx="640" cy="572" rx="7" ry="5" fill="#e8a2a0" stroke="#d48886" stroke-width="0.7"/>
</g>
<path d="M576 586 C571 572 569 545 571 518 C572 506 578 498 586 495 C597 499 606 507 614 511 C624 507 634 499 644 495 C652 498 657 507 657 520 C658 540 657 560 655 574 C650 584 640 585 630 585 C622 590 619 600 616 612" fill="none" stroke="#c98080" stroke-width="13.5" stroke-linecap="round" stroke-linejoin="round"/>
<path d="M576 586 C571 572 569 545 571 518 C572 506 578 498 586 495 C597 499 606 507 614 511 C624 507 634 499 644 495 C652 498 657 507 657 520 C658 540 657 560 655 574 C650 584 640 585 630 585 C622 590 619 600 616 612" fill="none" stroke="#e6a2a0" stroke-width="11" stroke-linecap="round" stroke-linejoin="round"/>
<circle cx="572" cy="580" r="5" fill="#e7a4a2" stroke="#cf8886" stroke-width="0.7"/>
<circle cx="570" cy="566" r="5" fill="#e7a4a2" stroke="#cf8886" stroke-width="0.7"/>
<circle cx="569" cy="552" r="5" fill="#e7a4a2" stroke="#cf8886" stroke-width="0.7"/>
<circle cx="569" cy="538" r="5" fill="#e7a4a2" stroke="#cf8886" stroke-width="0.7"/>
<circle cx="570" cy="524" r="5" fill="#e7a4a2" stroke="#cf8886" stroke-width="0.7"/>
<circle cx="574" cy="510" r="5" fill="#e7a4a2" stroke="#cf8886" stroke-width="0.7"/>
<circle cx="585" cy="499" r="5" fill="#e7a4a2" stroke="#cf8886" stroke-width="0.7"/>
<circle cx="597" cy="504" r="5" fill="#e7a4a2" stroke="#cf8886" stroke-width="0.7"/>
<circle cx="608" cy="510" r="5" fill="#e7a4a2" stroke="#cf8886" stroke-width="0.7"/>
<circle cx="620" cy="509" r="5" fill="#e7a4a2" stroke="#cf8886" stroke-width="0.7"/>
<circle cx="632" cy="503" r="5" fill="#e7a4a2" stroke="#cf8886" stroke-width="0.7"/>
<circle cx="644" cy="499" r="5" fill="#e7a4a2" stroke="#cf8886" stroke-width="0.7"/>
<circle cx="653" cy="507" r="5" fill="#e7a4a2" stroke="#cf8886" stroke-width="0.7"/>
<circle cx="657" cy="521" r="5" fill="#e7a4a2" stroke="#cf8886" stroke-width="0.7"/>
<circle cx="658" cy="535" r="5" fill="#e7a4a2" stroke="#cf8886" stroke-width="0.7"/>
<circle cx="657" cy="549" r="5" fill="#e7a4a2" stroke="#cf8886" stroke-width="0.7"/>
<circle cx="656" cy="563" r="5" fill="#e7a4a2" stroke="#cf8886" stroke-width="0.7"/>
<circle cx="651" cy="577" r="5" fill="#e7a4a2" stroke="#cf8886" stroke-width="0.7"/>
<circle cx="640" cy="584" r="5" fill="#e7a4a2" stroke="#cf8886" stroke-width="0.7"/>
<circle cx="629" cy="587" r="5" fill="#e7a4a2" stroke="#cf8886" stroke-width="0.7"/>
<circle cx="621" cy="599" r="5" fill="#e7a4a2" stroke="#cf8886" stroke-width="0.7"/>
<circle cx="617" cy="608" r="5" fill="#e7a4a2" stroke="#cf8886" stroke-width="0.7"/>
<path d="M588 580 C590 586 591 590 593 594" stroke="#d88e8c" stroke-width="3" fill="none" stroke-linecap="round"/>
<path d="M582.7 518 L582.7 533 L573.2 569.5 Q571.2 573.5 576.2 574.0 L605.2 574.0 Q610.2 573.5 608.2 569.5 L598.7 533 L598.7 518 Z" fill="#fbf4f4" fill-opacity="0.6" stroke="#d8cccc" stroke-width="0.8"/>
<path d="M578.1 550.7 L573.2 569.5 Q571.2 573.5 576.2 574.0 L605.2 574.0 Q610.2 573.5 608.2 569.5 L603.3 550.7 Z" fill="#c8c6c6" fill-opacity="0.92"/>
<ellipse cx="590.7" cy="550.7" rx="12.6" ry="2" fill="#d8d6d6"/>
<rect x="582.7" y="529" width="16" height="3.2" fill="#c4c0c0" fill-opacity="0.9"/>
<path d="M574.2 568.5 Q590.7 572.5 607.2 568.5" fill="none" stroke="#f0f0f0" stroke-width="1.2"/>
<path d="M629.5 520 L629.5 535 L620.0 572.3 Q618.0 576.3 623.0 576.8 L652.0 576.8 Q657.0 576.3 655.0 572.3 L645.5 535 L645.5 520 Z" fill="#fbf4f4" fill-opacity="0.6" stroke="#d8cccc" stroke-width="0.8"/>
<path d="M624.8 553.3 L620.0 572.3 Q618.0 576.3 623.0 576.8 L652.0 576.8 Q657.0 576.3 655.0 572.3 L650.2 553.3 Z" fill="#c8c6c6" fill-opacity="0.92"/>
<ellipse cx="637.5" cy="553.3" rx="12.7" ry="2" fill="#d8d6d6"/>
<rect x="629.5" y="531" width="16" height="3.2" fill="#c4c0c0" fill-opacity="0.9"/>
<path d="M621.0 571.3 Q637.5 575.3 654.0 571.3" fill="none" stroke="#f0f0f0" stroke-width="1.2"/>
<text x="590.2" y="566" font-size="2.8" font-weight="bold" text-anchor="middle" fill="#333">Unfermented sample</text>
<text x="637" y="568" font-size="2.8" font-weight="bold" text-anchor="middle" fill="#333">Fermented sample</text>
</g>
<text x="604" y="509.5" font-size="23.2" font-weight="bold" text-anchor="middle" fill="#111">Large bowel</text>
<text x="517.2" y="601.7" font-size="15" font-weight="bold" fill="#111">Culture</text>
<text x="699.5" y="601.7" font-size="15" font-weight="bold" text-anchor="end" fill="#111">contained</text>
<text x="517.2" y="620" font-size="15" font-weight="bold" fill="#111">unfermented</text>
<text x="636.8" y="620" font-size="15" font-weight="bold" text-anchor="middle" fill="#111">and</text>
<text x="699.5" y="620" font-size="15" font-weight="bold" text-anchor="end" fill="#111">pre-</text>
<text x="517.2" y="636.7" font-size="15" font-weight="bold" fill="#111">fermented samples</text>
<rect x="471.5" y="640.5" width="271" height="34" fill="#f8cbad"/>
<text x="485" y="666" font-size="23.2" fill="#111"><tspan font-style="italic">In vitro</tspan> fecal fermentation</text>
<g id="bact" filter="url(#bl05)">
<path d="M783.2 515.2 Q785 510 787.8 506" fill="none" stroke="#d0d0c8" stroke-width="0.6"/>
<line x1="777.2" y1="523.9" x2="783.2" y2="515.2" stroke="#6a8444" stroke-width="4.2" stroke-linecap="round"/>
<line x1="777.2" y1="523.9" x2="783.2" y2="515.2" stroke="#7d9a52" stroke-width="3.4" stroke-linecap="round"/>
<path d="M811 516 Q806 511 800 512" fill="none" stroke="#c8d8d4" stroke-width="0.6"/>
<line x1="811" y1="516.5" x2="819" y2="525.2" stroke="#6bbcae" stroke-width="5.3999999999999995" stroke-linecap="round"/>
<line x1="811" y1="516.5" x2="819" y2="525.2" stroke="#86d0c2" stroke-width="4.6" stroke-linecap="round"/>
<path d="M851.1 517.4 Q855.5 516.9 857.9 518.5" fill="none" stroke="#d89a9a" stroke-width="0.6"/>
<path d="M849.4 518.6 Q853.1 519.4 854.7 522.2" fill="none" stroke="#d89a9a" stroke-width="0.6"/>
<path d="M846.4 519.3 Q848.5 520.9 848.7 524.5" fill="none" stroke="#d89a9a" stroke-width="0.6"/>
<path d="M842.8 519.4 Q843.1 521.0 841.4 524.7" fill="none" stroke="#d89a9a" stroke-width="0.6"/>
<path d="M839.6 518.8 Q838.2 519.8 834.9 522.9" fill="none" stroke="#d89a9a" stroke-width="0.6"/>
<path d="M837.6 517.7 Q835.2 517.6 830.9 519.4" fill="none" stroke="#d89a9a" stroke-width="0.6"/>
<path d="M837.3 516.4 Q834.9 514.9 830.5 515.3" fill="none" stroke="#d89a9a" stroke-width="0.6"/>
<path d="M839.0 515.2 Q837.3 512.4 833.7 511.6" fill="none" stroke="#d89a9a" stroke-width="0.6"/>
<path d="M842.0 514.5 Q841.9 510.9 839.7 509.3" fill="none" stroke="#d89a9a" stroke-width="0.6"/>
<path d="M845.6 514.4 Q847.3 510.8 847.0 509.1" fill="none" stroke="#d89a9a" stroke-width="0.6"/>
<path d="M848.8 515.0 Q852.2 512.0 853.5 510.9" fill="none" stroke="#d89a9a" stroke-width="0.6"/>
<path d="M850.8 516.1 Q855.2 514.2 857.5 514.4" fill="none" stroke="#d89a9a" stroke-width="0.6"/>
<line x1="837" y1="516.6" x2="851.5" y2="517.2" stroke="#c86060" stroke-width="4.8" stroke-linecap="round"/>
<line x1="837" y1="516.6" x2="851.5" y2="517.2" stroke="#d87474" stroke-width="4" stroke-linecap="round"/>
<path d="M806.2 535.3 Q810.4 534.8 812.5 536.4" fill="none" stroke="#6a5050" stroke-width="0.6"/>
<path d="M804.7 536.5 Q808.1 537.3 809.5 540.1" fill="none" stroke="#6a5050" stroke-width="0.6"/>
<path d="M801.9 537.2 Q803.9 538.8 803.9 542.4" fill="none" stroke="#6a5050" stroke-width="0.6"/>
<path d="M798.5 537.3 Q798.9 538.9 797.2 542.6" fill="none" stroke="#6a5050" stroke-width="0.6"/>
<path d="M795.5 536.7 Q794.3 537.7 791.2 540.8" fill="none" stroke="#6a5050" stroke-width="0.6"/>
<path d="M793.6 535.6 Q791.6 535.5 787.5 537.3" fill="none" stroke="#6a5050" stroke-width="0.6"/>
<path d="M793.4 534.3 Q791.2 532.8 787.1 533.2" fill="none" stroke="#6a5050" stroke-width="0.6"/>
<path d="M794.9 533.1 Q793.5 530.3 790.1 529.5" fill="none" stroke="#6a5050" stroke-width="0.6"/>
<path d="M797.7 532.4 Q797.7 528.8 795.7 527.2" fill="none" stroke="#6a5050" stroke-width="0.6"/>
<path d="M801.1 532.3 Q802.7 528.7 802.4 527.0" fill="none" stroke="#6a5050" stroke-width="0.6"/>
<path d="M804.1 532.9 Q807.3 529.9 808.4 528.8" fill="none" stroke="#6a5050" stroke-width="0.6"/>
<path d="M806.0 534.0 Q810.0 532.1 812.1 532.3" fill="none" stroke="#6a5050" stroke-width="0.6"/>
<line x1="793.1" y1="535.1" x2="806.4" y2="534.5" stroke="#5a2828" stroke-width="4.6" stroke-linecap="round"/>
<line x1="793.1" y1="535.1" x2="806.4" y2="534.5" stroke="#6e3434" stroke-width="3.8" stroke-linecap="round"/>
<path d="M827.6 539.8 Q825 544 822.3 549" fill="none" stroke="#c8c0c0" stroke-width="0.6"/>
<line x1="831.6" y1="530.5" x2="827.6" y2="539.8" stroke="#a89292" stroke-width="4.4" stroke-linecap="round"/>
<line x1="831.6" y1="530.5" x2="827.6" y2="539.8" stroke="#b8a4a4" stroke-width="3.6" stroke-linecap="round"/>
<path d="M842.8 545 Q840 549 838.2 553" fill="none" stroke="#a8b8b8" stroke-width="0.6"/>
<line x1="846.1" y1="535.8" x2="842.8" y2="545" stroke="#b07020" stroke-width="4.4" stroke-linecap="round"/>
<line x1="846.1" y1="535.8" x2="842.8" y2="545" stroke="#c88432" stroke-width="3.6" stroke-linecap="round"/>
<path d="M858 541 Q856 535 859 529" fill="none" stroke="#d0d0d8" stroke-width="0.6"/>
<line x1="858" y1="541.5" x2="861.5" y2="549" stroke="#bdb2d8" stroke-width="5.2" stroke-linecap="round"/>
<line x1="858" y1="541.5" x2="861.5" y2="549" stroke="#cfc6e6" stroke-width="4.4" stroke-linecap="round"/>
<path d="M770.6 545 Q772 538 776 533" fill="none" stroke="#e0d8c8" stroke-width="0.6"/>
<line x1="770.6" y1="545.5" x2="773.3" y2="553" stroke="#e4b878" stroke-width="5.2" stroke-linecap="round"/>
<line x1="770.6" y1="545.5" x2="773.3" y2="553" stroke="#f0c890" stroke-width="4.4" stroke-linecap="round"/>
<path d="M773.3 565 Q777 558 781 561 Q785 563 788 555 Q791 549 795.8 550.4" fill="none" stroke="#e6c89a" stroke-width="2.2" stroke-linecap="round"/>
<path d="M773.3 565 Q768 567 765 568" fill="none" stroke="#d8d0c0" stroke-width="0.6"/>
<path d="M802.4 555.7 Q806 553 809 557 Q812 561 816 557 Q820 554 823 559 Q826 563 831.6 562.3" fill="none" stroke="#5a7a34" stroke-width="2.2" stroke-linecap="round"/>
<path d="M854.5 569.2 Q858.1 568.9 859.8 570.6" fill="none" stroke="#e8c4c4" stroke-width="0.6"/>
<path d="M853.7 571.9 Q856.5 573.5 857.4 577.0" fill="none" stroke="#e8c4c4" stroke-width="0.6"/>
<path d="M852.3 573.2 Q853.6 575.6 852.9 580.1" fill="none" stroke="#e8c4c4" stroke-width="0.6"/>
<path d="M850.8 572.6 Q850.4 574.6 848.1 578.6" fill="none" stroke="#e8c4c4" stroke-width="0.6"/>
<path d="M849.7 570.3 Q848.2 570.7 844.7 573.2" fill="none" stroke="#e8c4c4" stroke-width="0.6"/>
<path d="M849.5 567.2 Q847.9 565.5 844.2 565.8" fill="none" stroke="#e8c4c4" stroke-width="0.6"/>
<path d="M850.3 564.5 Q849.5 560.9 846.6 559.4" fill="none" stroke="#e8c4c4" stroke-width="0.6"/>
<path d="M851.7 563.2 Q852.4 558.8 851.1 556.3" fill="none" stroke="#e8c4c4" stroke-width="0.6"/>
<path d="M853.2 563.8 Q855.6 559.8 855.9 557.8" fill="none" stroke="#e8c4c4" stroke-width="0.6"/>
<path d="M854.3 566.1 Q857.8 563.7 859.3 563.2" fill="none" stroke="#e8c4c4" stroke-width="0.6"/>
<line x1="851.5" y1="563.6" x2="852.8" y2="572.9" stroke="#e0a0a0" stroke-width="4.8" stroke-linecap="round"/>
<line x1="851.5" y1="563.6" x2="852.8" y2="572.9" stroke="#ebb2b2" stroke-width="4" stroke-linecap="round"/>
<path d="M794.5 568.9 Q799 566 803 564" fill="none" stroke="#b0b0b0" stroke-width="0.6"/>
<line x1="783.9" y1="573.6" x2="794.5" y2="568.9" stroke="#903838" stroke-width="4.6" stroke-linecap="round"/>
<line x1="783.9" y1="573.6" x2="794.5" y2="568.9" stroke="#a44a4a" stroke-width="3.8" stroke-linecap="round"/>
<path d="M818.3 576.9 Q823 572 827 573" fill="none" stroke="#d8d8c0" stroke-width="0.6"/>
<line x1="806.4" y1="573.2" x2="817.3" y2="576.2" stroke="#e8c078" stroke-width="5.0" stroke-linecap="round"/>
<line x1="806.4" y1="573.2" x2="817.3" y2="576.2" stroke="#f2d092" stroke-width="4.2" stroke-linecap="round"/>
</g>
<line x1="816.9" y1="601.6" x2="816.9" y2="584.3" stroke="#44546a" stroke-width="2.3"/>
<path d="M816.9 578.0 L821.1 585.0 L816.9 584.3 L812.7 585.0 Z" fill="#44546a"/>
<text x="814.5" y="622" font-size="23.3" font-weight="bold" text-anchor="middle" fill="#111">Gut microbiota</text>
<line x1="697.0" y1="630.5" x2="724.1" y2="615.5" stroke="#44546a" stroke-width="2.5"/>
<path d="M731.8 611.2 L725.7 619.7 L724.1 615.5 L721.3 611.9 Z" fill="#44546a"/>
</svg></body></html>
